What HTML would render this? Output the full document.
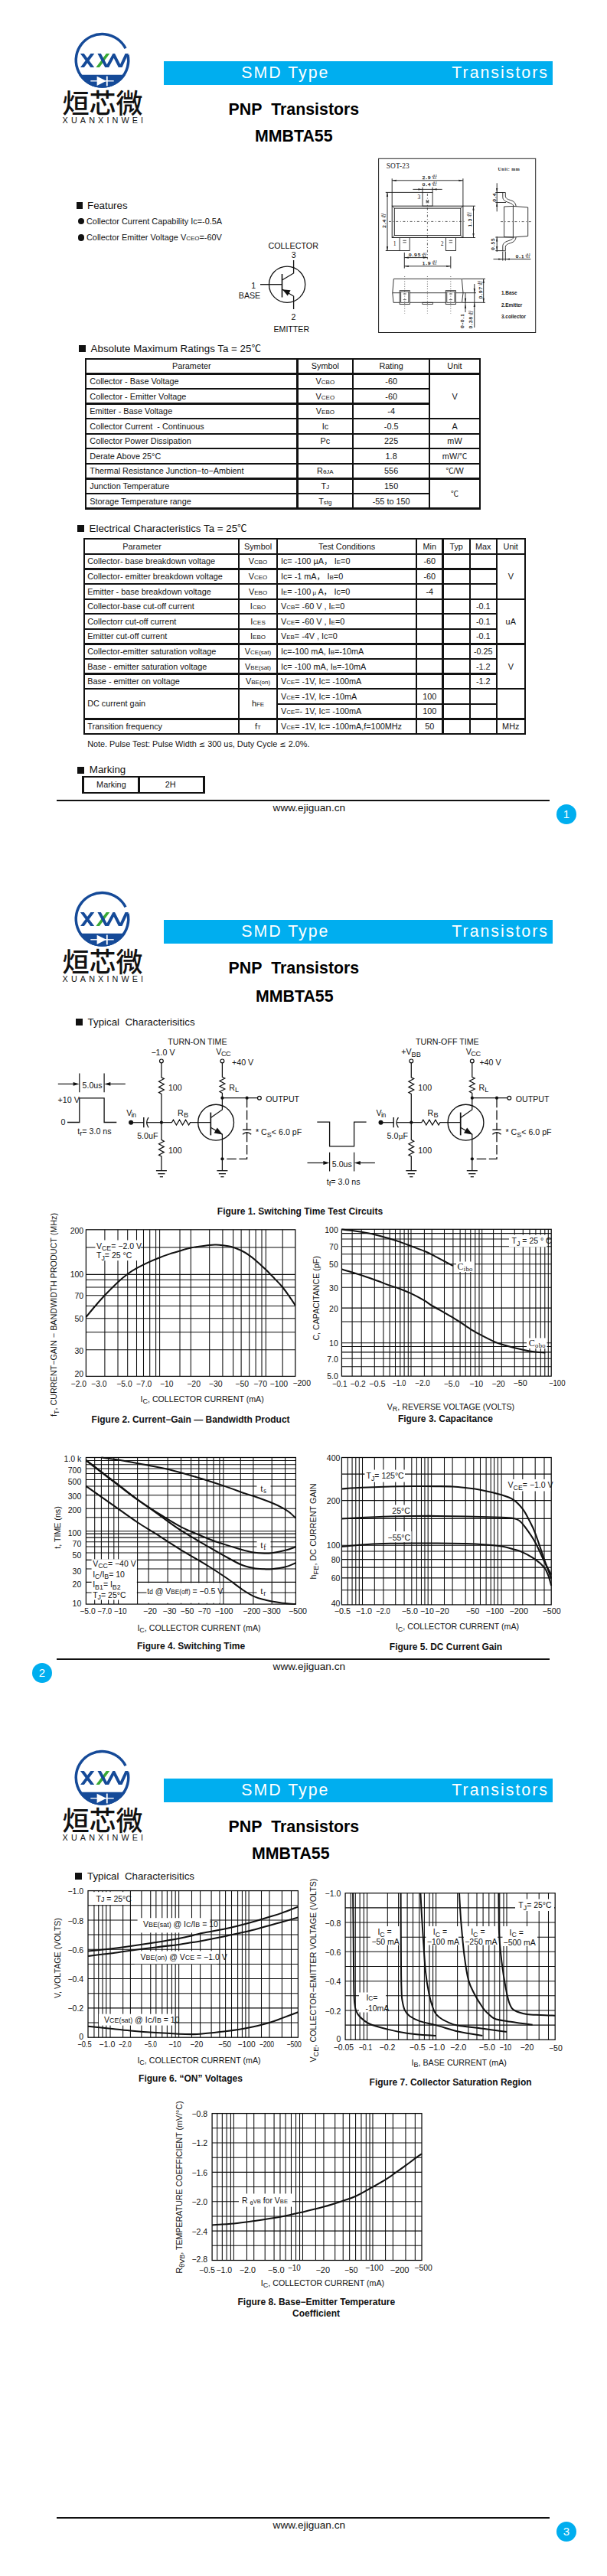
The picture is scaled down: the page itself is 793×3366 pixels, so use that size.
<!DOCTYPE html>
<html lang="zh">
<head>
<meta charset="utf-8">
<title>MMBTA55 PNP Transistors</title>
<style>
html,body{margin:0;padding:0;background:#fff;}
body{width:793px;height:3366px;position:relative;overflow:hidden;font-family:"Liberation Sans",sans-serif;color:#111;}
.page{position:absolute;left:0;width:793px;height:1122px;overflow:hidden;}
.page div,.page svg{position:absolute;}
.cn{font-family:"Liberation Sans","Noto Sans CJK SC",sans-serif;font-weight:500;font-size:35px;line-height:44px;white-space:nowrap;color:#111;}
.py{font-family:"Liberation Sans",sans-serif;font-size:10.8px;line-height:14px;letter-spacing:4.12px;white-space:nowrap;color:#111;}
.bar{left:214px;top:80px;width:507.5px;height:31px;background:#00aeef;}
.bart{top:82px;font-size:21.33px;line-height:26px;color:#fff;letter-spacing:2.0px;white-space:nowrap;}
.ttl{font-weight:bold;font-size:21.33px;line-height:26px;white-space:pre;color:#000;}
.fline{left:74px;top:1044.7px;width:644.2px;height:2.8px;background:#111;}
.furl{left:356.6px;top:1048.2px;font-size:13.6px;line-height:16px;white-space:nowrap;}
.pnum{width:26px;height:26px;border-radius:13px;background:#00aeef;color:#fff;font-size:15px;line-height:26px;text-align:center;}
.t{white-space:pre;line-height:1;}
</style>
</head>
<body>
<div class="page" style="top:0px">
<svg style="position:absolute;left:90px;top:36px" width="90" height="84" viewBox="90 36 90 84"><path d="M164.08 97.8 A36 36 0 0 1 102.92 97.8 Z" fill="#154a98"/><path d="M167 71.68 A34.25 34.25 0 1 1 164.02 63.25" fill="none" stroke="#154a98" stroke-width="3.5"/><clipPath id="lgc1"><rect x="100" y="70.1" width="72" height="18"/></clipPath><g clip-path="url(#lgc1)" fill="none" stroke-width="3.9"><path d="M105.9 68.1 L122.3 90.1 M122.3 68.1 L105.9 90.1" stroke="#154a98"/><path d="M142.5 68.1 L126.1 90.1" stroke="#3aaa35" stroke-width="3.6"/><path d="M128.6 68.1 L139.7 88.4 L148.7 71.6 L157.2 88.4 L167 67.2" stroke="#154a98" stroke-linejoin="round"/></g><path d="M118.3 105.8 H148.7" stroke="#fff" stroke-width="1.4"/><polygon points="126.6,99.8 126.6,112 139,105.8" fill="#fff"/><path d="M139.8 99.6 V112.4" stroke="#fff" stroke-width="1.8"/></svg><div class="cn" style="left:81.5px;top:114px;">烜芯微</div><div class="py" style="left:81.6px;top:150px;">XUANXINWEI</div><div class="bar"></div><div class="bart" style="left:315.3px;">SMD Type</div><div class="bart" style="left:590.3px;">Transistors</div><div class="ttl" style="left:298.5px;top:130px;">PNP&nbsp; Transistors</div><div class="ttl" style="left:333px;top:165px;">MMBTA55</div>
<div style="left:99.5px;top:264.2px;width:8.8px;height:8.8px;background:#111"></div><div class="t" style="top:261.72px;font-size:13.33px;left:114px;">Features</div><div style="left:101.6px;top:285px;width:8.2px;height:8.2px;border-radius:50%;background:#111"></div><div class="t" style="top:283.77px;font-size:10.9px;left:113px;">Collector Current Capability Ic=-0.5A</div><div style="left:101.6px;top:306.4px;width:8.2px;height:8.2px;border-radius:50%;background:#111"></div><div class="t" style="top:305.17px;font-size:10.9px;left:113px;">Collector Emitter Voltage V<span style="font-size:8px">CEO</span>=-60V</div>
<svg style="left:300px;top:300px" width="170" height="150" viewBox="300 300 170 150" font-family='&quot;Liberation Sans&quot;, sans-serif'><circle cx="375.1" cy="371.7" r="23.6" fill="none" stroke="#111" stroke-width="1.3"/><path d="M340 371.7 H368.5" stroke="#111" stroke-width="1.3" fill="none"/><path d="M368.5 358 V388.5" stroke="#111" stroke-width="1.6" fill="none"/><path d="M368.5 366 L383.6 357 V340" stroke="#111" stroke-width="1.3" fill="none"/><path d="M368.5 378 L383.6 387 V404" stroke="#111" stroke-width="1.3" fill="none"/><polygon points="369,378.3 379.6,379.3 375.8,386.6" fill="#111"/><text x="383.2" y="325.3" font-size="10.75" text-anchor="middle" fill="#111">COLLECTOR</text><text x="383.6" y="336.5" font-size="10.67" text-anchor="middle" fill="#111">3</text><text x="331.2" y="377.2" font-size="10.67" text-anchor="middle" fill="#111">1</text><text x="326" y="390.3" font-size="10.67" text-anchor="middle" fill="#111">BASE</text><text x="383.4" y="418.3" font-size="10.67" text-anchor="middle" fill="#111">2</text><text x="380.8" y="434.3" font-size="10.67" text-anchor="middle" fill="#111">EMITTER</text></svg>
<svg style="left:490px;top:200px" width="215" height="240" viewBox="490 200 215 240"><rect x="494.6" y="207.3" width="205.1" height="227.2" fill="none" stroke="#222" stroke-width="1"/><text x="504.8" y="220.3" font-size="9.4" font-family='&quot;Liberation Serif&quot;, serif' fill="#222" letter-spacing="0.1">SOT-23</text><text x="650.5" y="223.3" font-size="6" font-weight="bold" font-family='&quot;Liberation Serif&quot;, serif' fill="#222" letter-spacing="0.5">Unit: mm</text><rect x="512.2" y="269.2" width="92.7" height="41.3" fill="none" stroke="#222" stroke-width="1"/><rect x="515.3" y="272.1" width="86.5" height="35.5" fill="none" stroke="#222" stroke-width="1"/><path d="M512.2 269.2 L515.3 272.1" stroke="#222" stroke-width="0.8" fill="none"/><path d="M604.9 269.2 L601.8 272.1" stroke="#222" stroke-width="0.8" fill="none"/><path d="M512.2 310.5 L515.3 307.6" stroke="#222" stroke-width="0.8" fill="none"/><path d="M604.9 310.5 L601.8 307.6" stroke="#222" stroke-width="0.8" fill="none"/><rect x="552" y="251.4" width="13.1" height="17.8" fill="none" stroke="#222" stroke-width="0.9"/><rect x="522.1" y="310.5" width="13.1" height="17" fill="none" stroke="#222" stroke-width="0.9"/><rect x="582.4" y="310.5" width="13.1" height="17" fill="none" stroke="#222" stroke-width="0.9"/><path d="M508 289.4 L607.5 289.4" stroke="#222" stroke-width="0.7" fill="none" stroke-dasharray="3 2.6 1 2.6"/><path d="M558.4 253 L558.4 341" stroke="#222" stroke-width="0.7" fill="none" stroke-dasharray="3 2.6 1 2.6"/><path d="M526.4 314.3 L530.8 314.3" stroke="#222" stroke-width="0.8" fill="none"/><path d="M526.4 316.8 L530.8 316.8" stroke="#222" stroke-width="0.8" fill="none"/><path d="M586.7 314.3 L591.1 314.3" stroke="#222" stroke-width="0.8" fill="none"/><path d="M586.7 316.8 L591.1 316.8" stroke="#222" stroke-width="0.8" fill="none"/><path d="M557.2 261 L557.2 265.4" stroke="#222" stroke-width="0.8" fill="none"/><path d="M559.7 261 L559.7 265.4" stroke="#222" stroke-width="0.8" fill="none"/><path d="M557.2 263.2 L559.7 263.2" stroke="#222" stroke-width="0.6" fill="none"/><text x="547.3" y="259.6" font-size="7.6" text-anchor="middle" font-family='&quot;Liberation Serif&quot;, serif' fill="#222">3</text><text x="515.6" y="320.6" font-size="7.6" text-anchor="middle" font-family='&quot;Liberation Serif&quot;, serif' fill="#222">1</text><text x="577.6" y="320.6" font-size="7.6" text-anchor="middle" font-family='&quot;Liberation Serif&quot;, serif' fill="#222">2</text><path d="M512.2 233.3 L512.2 269.2" stroke="#222" stroke-width="0.95" fill="none"/><path d="M604.9 233.3 L604.9 269.2" stroke="#222" stroke-width="0.95" fill="none"/><path d="M512.2 235.8 L604.9 235.8" stroke="#222" stroke-width="0.95" fill="none"/><polygon points="512.2,235.8 517.8,234.65 517.8,236.95" fill="#222"/><polygon points="604.9,235.8 599.3,236.95 599.3,234.65" fill="#222"/><text x="557.5" y="233.51" font-size="7" text-anchor="middle" font-family='&quot;Liberation Serif&quot;, serif' fill="#222" letter-spacing="1.0" stroke="#222" stroke-width="0.25">2.9</text><text x="564.31" y="230.8" font-size="3.6" font-weight="bold" font-family='&quot;Liberation Serif&quot;, serif' fill="#222">+0.1</text><text x="564.31" y="233.8" font-size="3.6" font-weight="bold" font-family='&quot;Liberation Serif&quot;, serif' fill="#222">-0.1</text><path d="M539.4 247.4 L577.7 247.4" stroke="#222" stroke-width="0.95" fill="none"/><path d="M552 244.8 L552 251.4" stroke="#222" stroke-width="0.95" fill="none"/><path d="M565.1 244.8 L565.1 251.4" stroke="#222" stroke-width="0.95" fill="none"/><polygon points="552,247.4 546.4,248.55 546.4,246.25" fill="#222"/><polygon points="565.1,247.4 570.7,246.25 570.7,248.55" fill="#222"/><text x="557.5" y="242.91" font-size="7" text-anchor="middle" font-family='&quot;Liberation Serif&quot;, serif' fill="#222" letter-spacing="1.0" stroke="#222" stroke-width="0.25">0.4</text><text x="564.31" y="240.2" font-size="3.6" font-weight="bold" font-family='&quot;Liberation Serif&quot;, serif' fill="#222">+0.1</text><text x="564.31" y="243.2" font-size="3.6" font-weight="bold" font-family='&quot;Liberation Serif&quot;, serif' fill="#222">-0.1</text><path d="M506 251.4 L506 327.5" stroke="#222" stroke-width="0.95" fill="none"/><path d="M503.8 251.4 L552 251.4" stroke="#222" stroke-width="0.95" fill="none"/><path d="M503.8 327.5 L522.1 327.5" stroke="#222" stroke-width="0.95" fill="none"/><polygon points="506,251.4 507.15,257 504.85,257" fill="#222"/><polygon points="506,327.5 504.85,321.9 507.15,321.9" fill="#222"/><text x="503.51" y="291.9" font-size="7" text-anchor="middle" font-family='&quot;Liberation Serif&quot;, serif' fill="#222" transform="rotate(-90 503.51 291.9)" letter-spacing="1.0" stroke="#222" stroke-width="0.25">2.4</text><text x="500.8" y="285.09" font-size="3.6" font-weight="bold" font-family='&quot;Liberation Serif&quot;, serif' fill="#222" transform="rotate(-90 500.8 285.09)" >+0.1</text><text x="503.8" y="285.09" font-size="3.6" font-weight="bold" font-family='&quot;Liberation Serif&quot;, serif' fill="#222" transform="rotate(-90 503.8 285.09)" >-0.1</text><path d="M618.5 269.2 L618.5 310.5" stroke="#222" stroke-width="0.95" fill="none"/><path d="M604.9 269.2 L621 269.2" stroke="#222" stroke-width="0.95" fill="none"/><path d="M604.9 310.5 L621 310.5" stroke="#222" stroke-width="0.95" fill="none"/><polygon points="618.5,269.2 619.65,274.8 617.35,274.8" fill="#222"/><polygon points="618.5,310.5 617.35,304.9 619.65,304.9" fill="#222"/><text x="615.91" y="290.5" font-size="7" text-anchor="middle" font-family='&quot;Liberation Serif&quot;, serif' fill="#222" transform="rotate(-90 615.91 290.5)" letter-spacing="1.0" stroke="#222" stroke-width="0.25">1.3</text><text x="613.2" y="283.69" font-size="3.6" font-weight="bold" font-family='&quot;Liberation Serif&quot;, serif' fill="#222" transform="rotate(-90 613.2 283.69)" >+0.1</text><text x="616.2" y="283.69" font-size="3.6" font-weight="bold" font-family='&quot;Liberation Serif&quot;, serif' fill="#222" transform="rotate(-90 616.2 283.69)" >-0.1</text><path d="M528.3 336.6 L558.4 336.6" stroke="#222" stroke-width="0.95" fill="none"/><polygon points="528.3,336.6 533.9,335.45 533.9,337.75" fill="#222"/><polygon points="558.4,336.6 552.8,337.75 552.8,335.45" fill="#222"/><text x="542.1" y="335.31" font-size="7" text-anchor="middle" font-family='&quot;Liberation Serif&quot;, serif' fill="#222" letter-spacing="1.0" stroke="#222" stroke-width="0.25">0.95</text><text x="550.88" y="332.6" font-size="3.6" font-weight="bold" font-family='&quot;Liberation Serif&quot;, serif' fill="#222">+0.1</text><text x="550.88" y="335.6" font-size="3.6" font-weight="bold" font-family='&quot;Liberation Serif&quot;, serif' fill="#222">-0.1</text><path d="M528.3 330 L528.3 350.6" stroke="#222" stroke-width="0.95" fill="none"/><path d="M588.8 335 L588.8 350.6" stroke="#222" stroke-width="0.95" fill="none"/><path d="M528.3 347.8 L588.8 347.8" stroke="#222" stroke-width="0.95" fill="none"/><polygon points="528.3,347.8 533.9,346.65 533.9,348.95" fill="#222"/><polygon points="588.8,347.8 583.2,348.95 583.2,346.65" fill="#222"/><text x="557.5" y="345.71" font-size="7" text-anchor="middle" font-family='&quot;Liberation Serif&quot;, serif' fill="#222" letter-spacing="1.0" stroke="#222" stroke-width="0.25">1.9</text><text x="564.31" y="343" font-size="3.6" font-weight="bold" font-family='&quot;Liberation Serif&quot;, serif' fill="#222">+0.1</text><text x="564.31" y="346" font-size="3.6" font-weight="bold" font-family='&quot;Liberation Serif&quot;, serif' fill="#222">-0.1</text><polygon points="658.6,270 670.4,269.4 689.7,271 689.7,308.5 670.4,310 658.6,309.5" fill="none" stroke="#222" stroke-width="0.9"/><path d="M670.4 269.4 L670.4 310" stroke="#222" stroke-width="0.9" fill="none"/><path d="M656.8 251.5 V257.5 C656.8 262 661 263.5 665 264.8 C668.5 266 670.5 267 671 269.6" fill="none" stroke="#222" stroke-width="0.9"/><path d="M660.3 251.5 V256 C660.3 259.5 663.5 260.5 667.5 261.8 C671.5 263 673.8 265.5 674.2 269.7" fill="none" stroke="#222" stroke-width="0.9"/><path d="M656.8 251.5 H660.3" fill="none" stroke="#222" stroke-width="0.9"/><g transform="translate(0 579.2) scale(1 -1)"><path d="M656.8 251.5 V257.5 C656.8 262 661 263.5 665 264.8 C668.5 266 670.5 267 671 269.6" fill="none" stroke="#222" stroke-width="0.9"/><path d="M660.3 251.5 V256 C660.3 259.5 663.5 260.5 667.5 261.8 C671.5 263 673.8 265.5 674.2 269.7" fill="none" stroke="#222" stroke-width="0.9"/><path d="M656.8 251.5 H660.3" fill="none" stroke="#222" stroke-width="0.9"/></g><path d="M654 289.6 L694 289.6" stroke="#222" stroke-width="0.7" fill="none" stroke-dasharray="3 2.6 1 2.6"/><path d="M649.2 239.3 L649.2 276.4" stroke="#222" stroke-width="0.95" fill="none"/><path d="M647.3 251.5 L657 251.5" stroke="#222" stroke-width="0.95" fill="none"/><path d="M647.3 264.5 L661 264.5" stroke="#222" stroke-width="0.95" fill="none"/><polygon points="649.2,251.5 648.05,245.9 650.35,245.9" fill="#222"/><polygon points="649.2,264.5 650.35,270.1 648.05,270.1" fill="#222"/><text x="647.61" y="257.5" font-size="7" text-anchor="middle" font-family='&quot;Liberation Serif&quot;, serif' fill="#222" transform="rotate(-90 647.61 257.5)" letter-spacing="1.0" stroke="#222" stroke-width="0.25">0.4</text><path d="M649.2 309 L649.2 329" stroke="#222" stroke-width="0.95" fill="none"/><path d="M647.3 310 L670.4 310" stroke="#222" stroke-width="0.95" fill="none"/><path d="M647.3 327.6 L657 327.6" stroke="#222" stroke-width="0.95" fill="none"/><polygon points="649.2,310 650.35,315.6 648.05,315.6" fill="#222"/><polygon points="649.2,327.6 648.05,322 650.35,322" fill="#222"/><text x="645.51" y="318.6" font-size="7" text-anchor="middle" font-family='&quot;Liberation Serif&quot;, serif' fill="#222" transform="rotate(-90 645.51 318.6)" letter-spacing="1.0" stroke="#222" stroke-width="0.25">0.55</text><path d="M644.5 338.6 L693.4 338.6" stroke="#222" stroke-width="0.95" fill="none"/><path d="M656.8 328.5 L656.8 340.6" stroke="#222" stroke-width="0.95" fill="none"/><path d="M660.3 328.5 L660.3 340.6" stroke="#222" stroke-width="0.95" fill="none"/><polygon points="656.8,338.6 651.2,339.75 651.2,337.45" fill="#222"/><polygon points="660.3,338.6 665.9,337.45 665.9,339.75" fill="#222"/><text x="679.5" y="336.91" font-size="7" text-anchor="middle" font-family='&quot;Liberation Serif&quot;, serif' fill="#222" letter-spacing="1.0" stroke="#222" stroke-width="0.25">0.1</text><text x="686.31" y="334.2" font-size="3.6" font-weight="bold" font-family='&quot;Liberation Serif&quot;, serif' fill="#222">+0.1</text><text x="686.31" y="337.2" font-size="3.6" font-weight="bold" font-family='&quot;Liberation Serif&quot;, serif' fill="#222">-0.1</text><polygon points="514.3,364.4 603.3,364.4 605,382.7 603.5,395.3 514,395.3 512.8,382.7" fill="none" stroke="#222" stroke-width="0.9"/><path d="M512.8 382.7 L605 382.7" stroke="#222" stroke-width="0.9" fill="none"/><rect x="522.2" y="379.7" width="13.1" height="17.8" fill="#fff" stroke="#222" stroke-width="0.9"/><rect x="523.7" y="381.2" width="10.1" height="14.1" fill="none" stroke="#222" stroke-width="0.8"/><path d="M526.7 384 L530.8 384" stroke="#222" stroke-width="0.7" fill="none"/><path d="M526.7 391.6 L530.8 391.6" stroke="#222" stroke-width="0.7" fill="none"/><rect x="582.3" y="379.7" width="13.1" height="17.8" fill="#fff" stroke="#222" stroke-width="0.9"/><rect x="583.8" y="381.2" width="10.1" height="14.1" fill="none" stroke="#222" stroke-width="0.8"/><path d="M586.8 384 L590.9 384" stroke="#222" stroke-width="0.7" fill="none"/><path d="M586.8 391.6 L590.9 391.6" stroke="#222" stroke-width="0.7" fill="none"/><rect x="551.9" y="395.3" width="13.6" height="2.2" fill="none" stroke="#222" stroke-width="0.8"/><path d="M528.7 361 L528.7 409.5" stroke="#222" stroke-width="0.7" fill="none" stroke-dasharray="1 2.2"/><path d="M558.4 361 L558.4 409.5" stroke="#222" stroke-width="0.7" fill="none" stroke-dasharray="1 2.2"/><path d="M588.8 361 L588.8 409.5" stroke="#222" stroke-width="0.7" fill="none" stroke-dasharray="1 2.2"/><path d="M631.7 364.4 L631.7 395.3" stroke="#222" stroke-width="0.95" fill="none"/><path d="M603.8 364.4 L634 364.4" stroke="#222" stroke-width="0.95" fill="none"/><path d="M604 395.3 L634 395.3" stroke="#222" stroke-width="0.95" fill="none"/><polygon points="631.7,364.4 632.85,370 630.55,370" fill="#222"/><polygon points="631.7,395.3 630.55,389.7 632.85,389.7" fill="#222"/><text x="629.51" y="382" font-size="7" text-anchor="middle" font-family='&quot;Liberation Serif&quot;, serif' fill="#222" transform="rotate(-90 629.51 382)" letter-spacing="1.0" stroke="#222" stroke-width="0.25">0.97</text><text x="626.8" y="373.22" font-size="3.6" font-weight="bold" font-family='&quot;Liberation Serif&quot;, serif' fill="#222" transform="rotate(-90 626.8 373.22)" >+0.1</text><text x="629.8" y="373.22" font-size="3.6" font-weight="bold" font-family='&quot;Liberation Serif&quot;, serif' fill="#222" transform="rotate(-90 629.8 373.22)" >-0.1</text><path d="M619.8 371 L619.8 428" stroke="#222" stroke-width="0.95" fill="none"/><path d="M605 382.7 L622 382.7" stroke="#222" stroke-width="0.95" fill="none"/><polygon points="619.8,382.7 618.65,377.1 620.95,377.1" fill="#222"/><polygon points="619.8,395.3 620.95,400.9 618.65,400.9" fill="#222"/><text x="617.31" y="421" font-size="7" text-anchor="middle" font-family='&quot;Liberation Serif&quot;, serif' fill="#222" transform="rotate(-90 617.31 421)" letter-spacing="1.0" stroke="#222" stroke-width="0.25">0.38</text><text x="614.6" y="412.22" font-size="3.6" font-weight="bold" font-family='&quot;Liberation Serif&quot;, serif' fill="#222" transform="rotate(-90 614.6 412.22)" >+0.1</text><text x="617.6" y="412.22" font-size="3.6" font-weight="bold" font-family='&quot;Liberation Serif&quot;, serif' fill="#222" transform="rotate(-90 617.6 412.22)" >-0.1</text><path d="M608 382.7 L608 408" stroke="#222" stroke-width="0.95" fill="none"/><polygon points="608,395.3 606.85,389.7 609.15,389.7" fill="#222"/><polygon points="608,397.5 609.15,403.1 606.85,403.1" fill="#222"/><text x="606.11" y="419" font-size="7" text-anchor="middle" font-family='&quot;Liberation Serif&quot;, serif' fill="#222" transform="rotate(-90 606.11 419)" letter-spacing="1.0" stroke="#222" stroke-width="0.25">0-0.1</text><text x="655" y="384.7" font-size="6.4" font-weight="bold" font-family='&quot;Liberation Sans&quot;, sans-serif' fill="#222">1.Base</text><text x="655" y="400.7" font-size="6.4" font-weight="bold" font-family='&quot;Liberation Sans&quot;, sans-serif' fill="#222">2.Emitter</text><text x="655" y="415.9" font-size="6.4" font-weight="bold" font-family='&quot;Liberation Sans&quot;, sans-serif' fill="#222">3.collector</text></svg>
<div style="left:103px;top:451.2px;width:9px;height:9px;background:#111"></div><div class="t" style="top:449.32px;font-size:13.33px;left:118.6px;">Absolute Maximum Ratings Ta = 25<span style='font-family:"Liberation Sans","Noto Sans CJK SC",sans-serif;font-size:12.5px'>℃</span></div><div style="left:110.9px;top:467.75px;width:517.2px;height:2.3px;background:#111"></div><div style="left:110.9px;top:487.32px;width:517.2px;height:2.3px;background:#111"></div><div style="left:110.9px;top:506.89px;width:451.2px;height:2.3px;background:#111"></div><div style="left:110.9px;top:526.46px;width:451.2px;height:2.3px;background:#111"></div><div style="left:110.9px;top:546.03px;width:517.2px;height:2.3px;background:#111"></div><div style="left:110.9px;top:565.6px;width:517.2px;height:2.3px;background:#111"></div><div style="left:110.9px;top:585.17px;width:517.2px;height:2.3px;background:#111"></div><div style="left:110.9px;top:604.74px;width:517.2px;height:2.3px;background:#111"></div><div style="left:110.9px;top:624.31px;width:517.2px;height:2.3px;background:#111"></div><div style="left:110.9px;top:643.88px;width:451.2px;height:2.3px;background:#111"></div><div style="left:110.9px;top:663.45px;width:517.2px;height:2.3px;background:#111"></div><div style="left:110.85px;top:467.9px;width:2.3px;height:197.7px;background:#111"></div><div style="left:387.35px;top:467.9px;width:2.3px;height:197.7px;background:#111"></div><div style="left:460.15px;top:467.9px;width:2.3px;height:197.7px;background:#111"></div><div style="left:559.85px;top:467.9px;width:2.3px;height:197.7px;background:#111"></div><div style="left:625.85px;top:467.9px;width:2.3px;height:197.7px;background:#111"></div><div class="t" style="top:473.38px;font-size:10.85px;left:190.25px;width:120px;text-align:center;">Parameter</div><div class="t" style="top:473.38px;font-size:10.85px;left:364.9px;width:120px;text-align:center;">Symbol</div><div class="t" style="top:473.38px;font-size:10.85px;left:451.15px;width:120px;text-align:center;">Rating</div><div class="t" style="top:473.38px;font-size:10.85px;left:534px;width:120px;text-align:center;">Unit</div><div class="t" style="top:492.95px;font-size:10.85px;left:117.3px;">Collector - Base Voltage</div><div class="t" style="top:492.95px;font-size:10.85px;left:389.9px;width:70px;text-align:center;">V<span style="font-size:8px">CBO</span></div><div class="t" style="top:492.95px;font-size:10.85px;left:463.65px;width:95px;text-align:center;">-60</div><div class="t" style="top:512.52px;font-size:10.85px;left:117.3px;">Collector - Emitter Voltage</div><div class="t" style="top:512.52px;font-size:10.85px;left:389.9px;width:70px;text-align:center;">V<span style="font-size:8px">CEO</span></div><div class="t" style="top:512.52px;font-size:10.85px;left:463.65px;width:95px;text-align:center;">-60</div><div class="t" style="top:532.09px;font-size:10.85px;left:117.3px;">Emitter - Base Voltage</div><div class="t" style="top:532.09px;font-size:10.85px;left:389.9px;width:70px;text-align:center;">V<span style="font-size:8px">EBO</span></div><div class="t" style="top:532.09px;font-size:10.85px;left:463.65px;width:95px;text-align:center;">-4</div><div class="t" style="top:551.66px;font-size:10.85px;left:117.3px;">Collector Current  - Continuous</div><div class="t" style="top:551.66px;font-size:10.85px;left:389.9px;width:70px;text-align:center;">Ic</div><div class="t" style="top:551.66px;font-size:10.85px;left:463.65px;width:95px;text-align:center;">-0.5</div><div class="t" style="top:571.23px;font-size:10.85px;left:117.3px;">Collector Power Dissipation</div><div class="t" style="top:571.23px;font-size:10.85px;left:389.9px;width:70px;text-align:center;">Pc</div><div class="t" style="top:571.23px;font-size:10.85px;left:463.65px;width:95px;text-align:center;">225</div><div class="t" style="top:590.8px;font-size:10.85px;left:117.3px;">Derate Above 25°C</div><div class="t" style="top:590.8px;font-size:10.85px;left:463.65px;width:95px;text-align:center;">1.8</div><div class="t" style="top:610.37px;font-size:10.85px;left:117.3px;">Thermal Resistance Junction−to−Ambient</div><div class="t" style="top:610.37px;font-size:10.85px;left:389.9px;width:70px;text-align:center;">R<span style="font-size:8px">θJA</span></div><div class="t" style="top:610.37px;font-size:10.85px;left:463.65px;width:95px;text-align:center;">556</div><div class="t" style="top:629.94px;font-size:10.85px;left:117.3px;">Junction Temperature</div><div class="t" style="top:629.94px;font-size:10.85px;left:389.9px;width:70px;text-align:center;">T<span style="font-size:8px">J</span></div><div class="t" style="top:629.94px;font-size:10.85px;left:463.65px;width:95px;text-align:center;">150</div><div class="t" style="top:649.51px;font-size:10.85px;left:117.3px;">Storage Temperature range</div><div class="t" style="top:649.51px;font-size:10.85px;left:389.9px;width:70px;text-align:center;">T<span style="font-size:8px">stg</span></div><div class="t" style="top:649.51px;font-size:10.85px;left:463.65px;width:95px;text-align:center;">-55 to 150</div><div class="t" style="top:512.52px;font-size:10.85px;left:564px;width:60px;text-align:center;">V</div><div class="t" style="top:551.66px;font-size:10.85px;left:564px;width:60px;text-align:center;">A</div><div class="t" style="top:571.23px;font-size:10.85px;left:564px;width:60px;text-align:center;">mW</div><div class="t" style="top:590.8px;font-size:10.85px;left:564px;width:60px;text-align:center;">mW/<span style='font-family:"Liberation Sans","Noto Sans CJK SC",sans-serif;font-size:10px'>℃</span></div><div class="t" style="top:610.37px;font-size:10.85px;left:564px;width:60px;text-align:center;"><span style='font-family:"Liberation Sans","Noto Sans CJK SC",sans-serif;font-size:10px'>℃</span>/W</div><div class="t" style="top:639.73px;font-size:10.85px;left:564px;width:60px;text-align:center;"><span style='font-family:"Liberation Sans","Noto Sans CJK SC",sans-serif;font-size:10px'>℃</span></div>
<div style="left:101.3px;top:685.8px;width:9px;height:9px;background:#111"></div><div class="t" style="top:683.92px;font-size:13.33px;left:116.6px;">Electrical Characteristics Ta = 25<span style='font-family:"Liberation Sans","Noto Sans CJK SC",sans-serif;font-size:12.5px'>℃</span></div><div style="left:108.6px;top:703.15px;width:578.2px;height:2.3px;background:#111"></div><div style="left:108.6px;top:722.74px;width:578.2px;height:2.3px;background:#111"></div><div style="left:108.6px;top:742.33px;width:541.3px;height:2.3px;background:#111"></div><div style="left:108.6px;top:761.92px;width:541.3px;height:2.3px;background:#111"></div><div style="left:108.6px;top:781.51px;width:578.2px;height:2.3px;background:#111"></div><div style="left:108.6px;top:801.1px;width:541.3px;height:2.3px;background:#111"></div><div style="left:108.6px;top:820.69px;width:541.3px;height:2.3px;background:#111"></div><div style="left:108.6px;top:840.28px;width:578.2px;height:2.3px;background:#111"></div><div style="left:108.6px;top:859.87px;width:541.3px;height:2.3px;background:#111"></div><div style="left:108.6px;top:879.46px;width:541.3px;height:2.3px;background:#111"></div><div style="left:108.6px;top:899.05px;width:578.2px;height:2.3px;background:#111"></div><div style="left:361px;top:918.64px;width:288.9px;height:2.3px;background:#111"></div><div style="left:108.6px;top:938.23px;width:578.2px;height:2.3px;background:#111"></div><div style="left:108.6px;top:957.82px;width:578.2px;height:2.3px;background:#111"></div><div style="left:108.55px;top:703.3px;width:2.3px;height:256.67px;background:#111"></div><div style="left:310.85px;top:703.3px;width:2.3px;height:256.67px;background:#111"></div><div style="left:360.95px;top:703.3px;width:2.3px;height:256.67px;background:#111"></div><div style="left:542.85px;top:703.3px;width:2.3px;height:256.67px;background:#111"></div><div style="left:577.45px;top:703.3px;width:2.3px;height:256.67px;background:#111"></div><div style="left:612.55px;top:703.3px;width:2.3px;height:256.67px;background:#111"></div><div style="left:647.65px;top:703.3px;width:2.3px;height:256.67px;background:#111"></div><div style="left:684.55px;top:703.3px;width:2.3px;height:256.67px;background:#111"></div><div class="t" style="top:708.79px;font-size:10.85px;left:160.3px;">Parameter</div><div class="t" style="top:708.79px;font-size:10.85px;left:277.05px;width:120px;text-align:center;">Symbol</div><div class="t" style="top:708.79px;font-size:10.85px;left:393.05px;width:120px;text-align:center;">Test Conditions</div><div class="t" style="top:708.79px;font-size:10.85px;left:501.3px;width:120px;text-align:center;">Min</div><div class="t" style="top:708.79px;font-size:10.85px;left:536.15px;width:120px;text-align:center;">Typ</div><div class="t" style="top:708.79px;font-size:10.85px;left:571.25px;width:120px;text-align:center;">Max</div><div class="t" style="top:708.79px;font-size:10.85px;left:607.25px;width:120px;text-align:center;">Unit</div><div class="t" style="top:728.38px;font-size:10.85px;left:114.2px;">Collector- base breakdown voltage</div><div class="t" style="top:728.38px;font-size:10.85px;left:307.05px;width:60px;text-align:center;">V<span style="font-size:8px">CBO</span></div><div class="t" style="top:728.38px;font-size:10.85px;left:366.9px;">Ic= -100 µA<span style='font-family:"Liberation Sans","Noto Sans CJK SC",sans-serif'>，</span> I<span style="font-size:8px">E</span>=0</div><div class="t" style="top:728.38px;font-size:10.85px;left:541.3px;width:40px;text-align:center;">-60</div><div class="t" style="top:747.97px;font-size:10.85px;left:114.2px;">Collector- emitter breakdown voltage</div><div class="t" style="top:747.97px;font-size:10.85px;left:307.05px;width:60px;text-align:center;">V<span style="font-size:8px">CEO</span></div><div class="t" style="top:747.97px;font-size:10.85px;left:366.9px;">Ic= -1 mA<span style='font-family:"Liberation Sans","Noto Sans CJK SC",sans-serif'>，</span> I<span style="font-size:8px">B</span>=0</div><div class="t" style="top:747.97px;font-size:10.85px;left:541.3px;width:40px;text-align:center;">-60</div><div class="t" style="top:767.56px;font-size:10.85px;left:114.2px;">Emitter - base breakdown voltage</div><div class="t" style="top:767.56px;font-size:10.85px;left:307.05px;width:60px;text-align:center;">V<span style="font-size:8px">EBO</span></div><div class="t" style="top:767.56px;font-size:10.85px;left:366.9px;">I<span style="font-size:8px">E</span>= -100<span style="font-size:8px"> µ </span>A<span style='font-family:"Liberation Sans","Noto Sans CJK SC",sans-serif'>，</span> Ic=0</div><div class="t" style="top:767.56px;font-size:10.85px;left:541.3px;width:40px;text-align:center;">-4</div><div class="t" style="top:787.15px;font-size:10.85px;left:114.2px;">Collector-base cut-off current</div><div class="t" style="top:787.15px;font-size:10.85px;left:307.05px;width:60px;text-align:center;">I<span style="font-size:8px">CBO</span></div><div class="t" style="top:787.15px;font-size:10.85px;left:366.9px;">V<span style="font-size:8px">CB</span>= -60 V , I<span style="font-size:8px">E</span>=0</div><div class="t" style="top:787.15px;font-size:10.85px;left:611.25px;width:40px;text-align:center;">-0.1</div><div class="t" style="top:806.74px;font-size:10.85px;left:114.2px;">Collectorr cut-off current</div><div class="t" style="top:806.74px;font-size:10.85px;left:307.05px;width:60px;text-align:center;">I<span style="font-size:8px">CES</span></div><div class="t" style="top:806.74px;font-size:10.85px;left:366.9px;">V<span style="font-size:8px">CE</span>= -60 V , I<span style="font-size:8px">E</span>=0</div><div class="t" style="top:806.74px;font-size:10.85px;left:611.25px;width:40px;text-align:center;">-0.1</div><div class="t" style="top:826.33px;font-size:10.85px;left:114.2px;">Emitter cut-off current</div><div class="t" style="top:826.33px;font-size:10.85px;left:307.05px;width:60px;text-align:center;">I<span style="font-size:8px">EBO</span></div><div class="t" style="top:826.33px;font-size:10.85px;left:366.9px;">V<span style="font-size:8px">EB</span>= -4V , Ic=0</div><div class="t" style="top:826.33px;font-size:10.85px;left:611.25px;width:40px;text-align:center;">-0.1</div><div class="t" style="top:845.92px;font-size:10.85px;left:114.2px;">Collector-emitter saturation voltage</div><div class="t" style="top:845.92px;font-size:10.85px;left:307.05px;width:60px;text-align:center;">V<span style="font-size:8px">CE(sat)</span></div><div class="t" style="top:845.92px;font-size:10.85px;left:366.9px;">Ic=-100 mA, I<span style="font-size:8px">B</span>=-10mA</div><div class="t" style="top:845.92px;font-size:10.85px;left:611.25px;width:40px;text-align:center;">-0.25</div><div class="t" style="top:865.51px;font-size:10.85px;left:114.2px;">Base - emitter saturation voltage</div><div class="t" style="top:865.51px;font-size:10.85px;left:307.05px;width:60px;text-align:center;">V<span style="font-size:8px">BE(sat)</span></div><div class="t" style="top:865.51px;font-size:10.85px;left:366.9px;">Ic= -100 mA, I<span style="font-size:8px">B</span>=-10mA</div><div class="t" style="top:865.51px;font-size:10.85px;left:611.25px;width:40px;text-align:center;">-1.2</div><div class="t" style="top:885.1px;font-size:10.85px;left:114.2px;">Base - emitter on voltage</div><div class="t" style="top:885.1px;font-size:10.85px;left:307.05px;width:60px;text-align:center;">V<span style="font-size:8px">BE(on)</span></div><div class="t" style="top:885.1px;font-size:10.85px;left:366.9px;">V<span style="font-size:8px">CE</span>= -1V, Ic= -100mA</div><div class="t" style="top:885.1px;font-size:10.85px;left:611.25px;width:40px;text-align:center;">-1.2</div><div class="t" style="top:904.69px;font-size:10.85px;left:366.9px;">V<span style="font-size:8px">CE</span>= -1V, Ic= -10mA</div><div class="t" style="top:904.69px;font-size:10.85px;left:541.3px;width:40px;text-align:center;">100</div><div class="t" style="top:924.28px;font-size:10.85px;left:366.9px;">V<span style="font-size:8px">CE</span>=- 1V, Ic= -100mA</div><div class="t" style="top:924.28px;font-size:10.85px;left:541.3px;width:40px;text-align:center;">100</div><div class="t" style="top:943.87px;font-size:10.85px;left:114.2px;">Transition frequency</div><div class="t" style="top:943.87px;font-size:10.85px;left:307.05px;width:60px;text-align:center;">f<span style="font-size:8px">T</span></div><div class="t" style="top:943.87px;font-size:10.85px;left:366.9px;">V<span style="font-size:8px">CE</span>= -1V, Ic= -100mA,f=100MHz</div><div class="t" style="top:943.87px;font-size:10.85px;left:541.3px;width:40px;text-align:center;">50</div><div class="t" style="top:914.49px;font-size:10.85px;left:114.2px;">DC current gain</div><div class="t" style="top:914.49px;font-size:10.85px;left:307.05px;width:60px;text-align:center;">h<span style="font-size:8px">FE</span></div><div class="t" style="top:747.97px;font-size:10.85px;left:647.25px;width:40px;text-align:center;">V</div><div class="t" style="top:806.74px;font-size:10.85px;left:647.25px;width:40px;text-align:center;">uA</div><div class="t" style="top:865.51px;font-size:10.85px;left:647.25px;width:40px;text-align:center;">V</div><div class="t" style="top:943.87px;font-size:10.85px;left:647.25px;width:40px;text-align:center;">MHz</div><div class="t" style="top:967.42px;font-size:10.85px;left:114.2px;">Note. Pulse Test: Pulse Width <span style='font-family:"DejaVu Sans",sans-serif;font-size:10px'>≤</span> 300 us, Duty Cycle <span style='font-family:"DejaVu Sans",sans-serif;font-size:10px'>≤</span> 2.0%.</div>
<div style="left:100.6px;top:1001.8px;width:9px;height:9px;background:#111"></div><div class="t" style="top:999.42px;font-size:13.33px;left:116.8px;">Marking</div><div style="left:107.3px;top:1013.55px;width:160.4px;height:2.3px;background:#111"></div><div style="left:107.3px;top:1034.75px;width:160.4px;height:2.3px;background:#111"></div><div style="left:107.25px;top:1013.7px;width:2.3px;height:23.2px;background:#111"></div><div style="left:180.45px;top:1013.7px;width:2.3px;height:23.2px;background:#111"></div><div style="left:265.45px;top:1013.7px;width:2.3px;height:23.2px;background:#111"></div><div class="t" style="top:1020px;font-size:10.85px;left:110.4px;width:70px;text-align:center;">Marking</div><div class="t" style="top:1020px;font-size:10.85px;left:187.6px;width:70px;text-align:center;">2H</div>
<div class="fline"></div><div class="furl">www.ejiguan.cn</div><div class="pnum" style="left:726.8px;top:1050.8px;">1</div>
</div>
<div class="page" style="top:1122px">
<svg style="position:absolute;left:90px;top:36px" width="90" height="84" viewBox="90 36 90 84"><path d="M164.08 97.8 A36 36 0 0 1 102.92 97.8 Z" fill="#154a98"/><path d="M167 71.68 A34.25 34.25 0 1 1 164.02 63.25" fill="none" stroke="#154a98" stroke-width="3.5"/><clipPath id="lgc2"><rect x="100" y="70.1" width="72" height="18"/></clipPath><g clip-path="url(#lgc2)" fill="none" stroke-width="3.9"><path d="M105.9 68.1 L122.3 90.1 M122.3 68.1 L105.9 90.1" stroke="#154a98"/><path d="M142.5 68.1 L126.1 90.1" stroke="#3aaa35" stroke-width="3.6"/><path d="M128.6 68.1 L139.7 88.4 L148.7 71.6 L157.2 88.4 L167 67.2" stroke="#154a98" stroke-linejoin="round"/></g><path d="M118.3 105.8 H148.7" stroke="#fff" stroke-width="1.4"/><polygon points="126.6,99.8 126.6,112 139,105.8" fill="#fff"/><path d="M139.8 99.6 V112.4" stroke="#fff" stroke-width="1.8"/></svg><div class="cn" style="left:81.5px;top:114px;">烜芯微</div><div class="py" style="left:81.6px;top:150px;">XUANXINWEI</div><div class="bar"></div><div class="bart" style="left:315.3px;">SMD Type</div><div class="bart" style="left:590.3px;">Transistors</div><div class="ttl" style="left:298.5px;top:130px;">PNP&nbsp; Transistors</div><div class="ttl" style="left:334px;top:166.5px;">MMBTA55</div>
<div style="left:0;top:-1122px;width:793px;height:1122px"><div style="left:98.9px;top:1331.4px;width:9px;height:9px;background:#111"></div><div class="t" style="top:1329.32px;font-size:13.33px;left:114.6px;">Typical  Characterisitics</div><svg style="left:60px;top:1345px" width="700" height="215" viewBox="60 1345 700 215" font-family='&quot;Liberation Sans&quot;, sans-serif'><text x="257.9" y="1364.6" font-size="10.67" text-anchor="middle" fill="#111">TURN-ON TIME</text><text x="584.3" y="1365.2" font-size="10.67" text-anchor="middle" fill="#111">TURN-OFF TIME</text><circle cx="210.9" cy="1386.4" r="2.4" fill="#fff" stroke="#111" stroke-width="1.2"/><polyline points="210.9,1388.8 210.9,1407.8 214.3,1409.6 207.5,1413.2 214.3,1416.8 207.5,1420.4 214.3,1424 207.5,1427.6 210.9,1429.4 210.9,1466.7" fill="none" stroke="#111" stroke-width="1.25" stroke-linejoin="miter"/><polyline points="210.9,1466.7 210.9,1489.4 214.3,1491.2 207.5,1494.8 214.3,1498.4 207.5,1502 214.3,1505.6 207.5,1509.2 210.9,1511 210.9,1529.7" fill="none" stroke="#111" stroke-width="1.25" stroke-linejoin="miter"/><polyline points="203.9,1529.7 217.9,1529.7" fill="none" stroke="#111" stroke-width="1.3" stroke-linejoin="miter"/><polyline points="206.3,1533.7 215.5,1533.7" fill="none" stroke="#111" stroke-width="1.3" stroke-linejoin="miter"/><polyline points="208.8,1537.7 213,1537.7" fill="none" stroke="#111" stroke-width="1.3" stroke-linejoin="miter"/><circle cx="210.9" cy="1466.7" r="2.1" fill="#111"/><text x="219.9" y="1425.2" font-size="10.67" fill="#111">100</text><text x="219.9" y="1507.4" font-size="10.67" fill="#111">100</text><circle cx="171.1" cy="1466.7" r="3" fill="#111"/><polyline points="171.1,1466.7 187.8,1466.7" fill="none" stroke="#111" stroke-width="1.25" stroke-linejoin="miter"/><polyline points="187.8,1460.1 187.8,1473.3" fill="none" stroke="#111" stroke-width="1.4" stroke-linejoin="miter"/><path d="M194 1460.1 Q189.4 1466.7 194 1473.3" fill="none" stroke="#111" stroke-width="1.3"/><polyline points="191.8,1466.7 210.9,1466.7" fill="none" stroke="#111" stroke-width="1.25" stroke-linejoin="miter"/><text x="165.2" y="1458" font-size="10.67" fill="#111" letter-spacing="-0.7"><tspan dy="0" font-size="10.67">V</tspan><tspan dy="1.8" font-size="9">in</tspan></text><text x="179.2" y="1488.2" font-size="10.67" fill="#111">5.0uF</text><polyline points="210.9,1466.7 224.4,1466.7 226.42,1463.3 230.45,1470.1 234.48,1463.3 238.52,1470.1 242.55,1463.3 246.58,1470.1 248.6,1466.7 275.3,1466.7" fill="none" stroke="#111" stroke-width="1.25" stroke-linejoin="miter"/><text x="232" y="1458" font-size="10.67" fill="#111" letter-spacing="0.4"><tspan dy="0" font-size="10.67">R</tspan><tspan dy="2.2" font-size="9.2">B</tspan></text><circle cx="282.1" cy="1466.7" r="23.4" fill="none" stroke="#111" stroke-width="1.35"/><polyline points="275.3,1453.6 275.3,1483.4" fill="none" stroke="#111" stroke-width="1.7" stroke-linejoin="miter"/><polyline points="275.3,1460.6 290.4,1450 290.4,1434.7" fill="none" stroke="#111" stroke-width="1.25" stroke-linejoin="miter"/><polyline points="275.3,1473.3 290.4,1482.2 290.4,1529.7" fill="none" stroke="#111" stroke-width="1.25" stroke-linejoin="miter"/><polygon points="290.8,1482.6 279.6,1480.6 283.8,1473.4" fill="#111"/><polyline points="283.4,1529.7 297.4,1529.7" fill="none" stroke="#111" stroke-width="1.3" stroke-linejoin="miter"/><polyline points="285.8,1533.7 295,1533.7" fill="none" stroke="#111" stroke-width="1.3" stroke-linejoin="miter"/><polyline points="288.3,1537.7 292.5,1537.7" fill="none" stroke="#111" stroke-width="1.3" stroke-linejoin="miter"/><circle cx="290.4" cy="1514.3" r="2.1" fill="#111"/><circle cx="290.4" cy="1386.4" r="2.4" fill="#fff" stroke="#111" stroke-width="1.2"/><polyline points="290.4,1388.8 290.4,1407.3 293.8,1409.05 287,1412.55 293.8,1416.05 287,1419.55 293.8,1423.05 287,1426.55 290.4,1428.3 290.4,1434.7" fill="none" stroke="#111" stroke-width="1.25" stroke-linejoin="miter"/><circle cx="290.4" cy="1434.7" r="2.1" fill="#111"/><text x="282.3" y="1377.6" font-size="10.67" fill="#111" letter-spacing="-0.5"><tspan dy="0" font-size="10.67">V</tspan><tspan dy="2.8" font-size="9.2">CC</tspan></text><text x="303" y="1392" font-size="10.67" fill="#111">+40 V</text><text x="299.2" y="1424.8" font-size="10.67" fill="#111"><tspan dy="0" font-size="10.67">R</tspan><tspan dy="2.6" font-size="9">L</tspan></text><polyline points="290.4,1434.7 336.5,1434.7" fill="none" stroke="#111" stroke-width="1.25" stroke-linejoin="miter"/><circle cx="322.6" cy="1434.7" r="2.1" fill="#111"/><circle cx="338.9" cy="1434.7" r="2.4" fill="#fff" stroke="#111" stroke-width="1.2"/><text x="347.3" y="1439.8" font-size="10.67" fill="#111">OUTPUT</text><polyline points="322.6,1434.7 322.6,1476.2" fill="none" stroke="#111" stroke-width="1.3" stroke-linejoin="miter" stroke-dasharray="12.5 3.6"/><polyline points="317,1476.2 328.2,1476.2" fill="none" stroke="#111" stroke-width="1.4" stroke-linejoin="miter"/><path d="M317 1482.2 Q322.6 1477.2 328.2 1482.2" fill="none" stroke="#111" stroke-width="1.3"/><polyline points="322.6,1479.8 322.6,1514.3 290.4,1514.3" fill="none" stroke="#111" stroke-width="1.3" stroke-linejoin="miter" stroke-dasharray="12.5 3.6"/><text x="334" y="1483.4" font-size="10.67" fill="#111"><tspan dy="0" font-size="10.67">* C</tspan><tspan dy="2.4" font-size="9">S</tspan><tspan dy="-2.4" font-size="10.67">&lt; 6.0 pF</tspan></text><text x="197.4" y="1379.4" font-size="10.67" fill="#111">−1.0 V</text><circle cx="537.3" cy="1386.4" r="2.4" fill="#fff" stroke="#111" stroke-width="1.2"/><polyline points="537.3,1388.8 537.3,1407.8 540.7,1409.6 533.9,1413.2 540.7,1416.8 533.9,1420.4 540.7,1424 533.9,1427.6 537.3,1429.4 537.3,1466.7" fill="none" stroke="#111" stroke-width="1.25" stroke-linejoin="miter"/><polyline points="537.3,1466.7 537.3,1489.4 540.7,1491.2 533.9,1494.8 540.7,1498.4 533.9,1502 540.7,1505.6 533.9,1509.2 537.3,1511 537.3,1529.7" fill="none" stroke="#111" stroke-width="1.25" stroke-linejoin="miter"/><polyline points="530.3,1529.7 544.3,1529.7" fill="none" stroke="#111" stroke-width="1.3" stroke-linejoin="miter"/><polyline points="532.7,1533.7 541.9,1533.7" fill="none" stroke="#111" stroke-width="1.3" stroke-linejoin="miter"/><polyline points="535.2,1537.7 539.4,1537.7" fill="none" stroke="#111" stroke-width="1.3" stroke-linejoin="miter"/><circle cx="537.3" cy="1466.7" r="2.1" fill="#111"/><text x="546.3" y="1425.2" font-size="10.67" fill="#111">100</text><text x="546.3" y="1507.4" font-size="10.67" fill="#111">100</text><circle cx="497.5" cy="1466.7" r="3" fill="#111"/><polyline points="497.5,1466.7 514.2,1466.7" fill="none" stroke="#111" stroke-width="1.25" stroke-linejoin="miter"/><polyline points="514.2,1460.1 514.2,1473.3" fill="none" stroke="#111" stroke-width="1.4" stroke-linejoin="miter"/><path d="M520.4 1460.1 Q515.8 1466.7 520.4 1473.3" fill="none" stroke="#111" stroke-width="1.3"/><polyline points="518.2,1466.7 537.3,1466.7" fill="none" stroke="#111" stroke-width="1.25" stroke-linejoin="miter"/><text x="491.6" y="1458" font-size="10.67" fill="#111" letter-spacing="-0.7"><tspan dy="0" font-size="10.67">V</tspan><tspan dy="1.8" font-size="9">in</tspan></text><text x="505.6" y="1488.2" font-size="10.67" fill="#111">5.0<tspan font-family='&quot;Liberation Serif&quot;, serif'>µ</tspan>F</text><polyline points="537.3,1466.7 550.8,1466.7 552.82,1463.3 556.85,1470.1 560.88,1463.3 564.92,1470.1 568.95,1463.3 572.98,1470.1 575,1466.7 601.7,1466.7" fill="none" stroke="#111" stroke-width="1.25" stroke-linejoin="miter"/><text x="558.4" y="1458" font-size="10.67" fill="#111" letter-spacing="0.4"><tspan dy="0" font-size="10.67">R</tspan><tspan dy="2.2" font-size="9.2">B</tspan></text><circle cx="608.5" cy="1466.7" r="23.4" fill="none" stroke="#111" stroke-width="1.35"/><polyline points="601.7,1453.6 601.7,1483.4" fill="none" stroke="#111" stroke-width="1.7" stroke-linejoin="miter"/><polyline points="601.7,1460.6 616.8,1450 616.8,1434.7" fill="none" stroke="#111" stroke-width="1.25" stroke-linejoin="miter"/><polyline points="601.7,1473.3 616.8,1482.2 616.8,1529.7" fill="none" stroke="#111" stroke-width="1.25" stroke-linejoin="miter"/><polygon points="617.2,1482.6 606,1480.6 610.2,1473.4" fill="#111"/><polyline points="609.8,1529.7 623.8,1529.7" fill="none" stroke="#111" stroke-width="1.3" stroke-linejoin="miter"/><polyline points="612.2,1533.7 621.4,1533.7" fill="none" stroke="#111" stroke-width="1.3" stroke-linejoin="miter"/><polyline points="614.7,1537.7 618.9,1537.7" fill="none" stroke="#111" stroke-width="1.3" stroke-linejoin="miter"/><circle cx="616.8" cy="1514.3" r="2.1" fill="#111"/><circle cx="616.8" cy="1386.4" r="2.4" fill="#fff" stroke="#111" stroke-width="1.2"/><polyline points="616.8,1388.8 616.8,1407.3 620.2,1409.05 613.4,1412.55 620.2,1416.05 613.4,1419.55 620.2,1423.05 613.4,1426.55 616.8,1428.3 616.8,1434.7" fill="none" stroke="#111" stroke-width="1.25" stroke-linejoin="miter"/><circle cx="616.8" cy="1434.7" r="2.1" fill="#111"/><text x="608.7" y="1377.6" font-size="10.67" fill="#111" letter-spacing="-0.5"><tspan dy="0" font-size="10.67">V</tspan><tspan dy="2.8" font-size="9.2">CC</tspan></text><text x="626.4" y="1392" font-size="10.67" fill="#111">+40 V</text><text x="625.6" y="1424.8" font-size="10.67" fill="#111"><tspan dy="0" font-size="10.67">R</tspan><tspan dy="2.6" font-size="9">L</tspan></text><polyline points="616.8,1434.7 662.9,1434.7" fill="none" stroke="#111" stroke-width="1.25" stroke-linejoin="miter"/><circle cx="649" cy="1434.7" r="2.1" fill="#111"/><circle cx="665.3" cy="1434.7" r="2.4" fill="#fff" stroke="#111" stroke-width="1.2"/><text x="673.7" y="1439.8" font-size="10.67" fill="#111">OUTPUT</text><polyline points="649,1434.7 649,1476.2" fill="none" stroke="#111" stroke-width="1.3" stroke-linejoin="miter" stroke-dasharray="12.5 3.6"/><polyline points="643.4,1476.2 654.6,1476.2" fill="none" stroke="#111" stroke-width="1.4" stroke-linejoin="miter"/><path d="M643.4 1482.2 Q649 1477.2 654.6 1482.2" fill="none" stroke="#111" stroke-width="1.3"/><polyline points="649,1479.8 649,1514.3 616.8,1514.3" fill="none" stroke="#111" stroke-width="1.3" stroke-linejoin="miter" stroke-dasharray="12.5 3.6"/><text x="660.4" y="1483.4" font-size="10.67" fill="#111"><tspan dy="0" font-size="10.67">* C</tspan><tspan dy="2.4" font-size="9">S</tspan><tspan dy="-2.4" font-size="10.67">&lt; 6.0 pF</tspan></text><text x="524.2" y="1378.4" font-size="10.67" fill="#111"><tspan dy="0" font-size="10.67">+V</tspan><tspan dy="2.6" font-size="9.2">BB</tspan></text><polyline points="88,1466.5 103.8,1466.5 103.8,1434.9 136.1,1434.9 136.1,1466.5 152.3,1466.5" fill="none" stroke="#111" stroke-width="1.3" stroke-linejoin="miter"/><polyline points="103.8,1402.6 103.8,1427.3" fill="none" stroke="#111" stroke-width="1.2" stroke-linejoin="miter"/><polyline points="136.1,1402.6 136.1,1427.3" fill="none" stroke="#111" stroke-width="1.2" stroke-linejoin="miter"/><polyline points="75.8,1416.4 100,1416.4" fill="none" stroke="#111" stroke-width="1.2" stroke-linejoin="miter"/><polygon points="103.6,1416.4 95.6,1418.8 95.6,1414" fill="#111"/><polyline points="163.8,1416.4 140,1416.4" fill="none" stroke="#111" stroke-width="1.2" stroke-linejoin="miter"/><polygon points="136.3,1416.4 144.3,1414 144.3,1418.8" fill="#111"/><text x="120.6" y="1421.8" font-size="10.67" text-anchor="middle" fill="#111">5.0us</text><text x="75.6" y="1441.2" font-size="10.67" fill="#111">+10 V</text><text x="79.4" y="1470.4" font-size="10.67" fill="#111">0</text><text x="101.2" y="1481.8" font-size="10.67" fill="#111"><tspan dy="0" font-size="10.67">t</tspan><tspan dy="2.4" font-size="9.6">r</tspan><tspan dy="-2.4" font-size="10.67">= 3.0 ns</tspan></text><polyline points="414.3,1466.1 430.6,1466.1 430.6,1497.8 462.6,1497.8 462.6,1466.1 478.6,1466.1" fill="none" stroke="#111" stroke-width="1.3" stroke-linejoin="miter"/><polyline points="430.6,1505.8 430.6,1530.4" fill="none" stroke="#111" stroke-width="1.2" stroke-linejoin="miter"/><polyline points="462.6,1505.8 462.6,1530.4" fill="none" stroke="#111" stroke-width="1.2" stroke-linejoin="miter"/><polyline points="401.5,1519.5 427,1519.5" fill="none" stroke="#111" stroke-width="1.2" stroke-linejoin="miter"/><polygon points="430.4,1519.5 422.4,1521.9 422.4,1517.1" fill="#111"/><polyline points="489.9,1519.5 466,1519.5" fill="none" stroke="#111" stroke-width="1.2" stroke-linejoin="miter"/><polygon points="462.8,1519.5 470.8,1517.1 470.8,1521.9" fill="#111"/><text x="446.8" y="1524.8" font-size="10.67" text-anchor="middle" fill="#111">5.0us</text><text x="426.7" y="1547.8" font-size="10.67" fill="#111"><tspan dy="0" font-size="10.67">t</tspan><tspan dy="2.4" font-size="9.6">f</tspan><tspan dy="-2.4" font-size="10.67">= 3.0 ns</tspan></text></svg><svg style="left:0px;top:1570px" width="793" height="600" viewBox="0 1570 793 600" font-family='&quot;Liberation Sans&quot;, sans-serif'><text x="392" y="1586.8" font-size="12" text-anchor="middle" font-weight="bold" fill="#111">Figure 1. Switching Time Test Circuits</text><path d="M136.9 1606.8 V1798.4M154 1606.8 V1798.4M166.7 1606.8 V1798.4M178.5 1606.8 V1798.4M187.5 1606.8 V1798.4M195.7 1606.8 V1798.4M203.6 1606.8 V1798.4M208.6 1606.8 V1798.4M235 1606.8 V1798.4M249.3 1606.8 V1798.4M273.7 1606.8 V1798.4M290.9 1606.8 V1798.4M304.6 1606.8 V1798.4M315.1 1606.8 V1798.4M325.7 1606.8 V1798.4M334.1 1606.8 V1798.4M342 1606.8 V1798.4M347.3 1606.8 V1798.4M369.2 1606.8 V1798.4M112.4 1630.06 H385.8M112.4 1665.37 H385.8M112.4 1672.23 H385.8M112.4 1681.98 H385.8M112.4 1692.79 H385.8M112.4 1706.49 H385.8M112.4 1722.83 H385.8M112.4 1740.76 H385.8M112.4 1763.69 H385.8" stroke="#0a0a0a" stroke-width="1.05" fill="none"/><rect x="112.4" y="1606.8" width="273.4" height="191.6" fill="none" stroke="#0a0a0a" stroke-width="1.25"/><rect x="124.5" y="1620.5" width="59" height="26.7" fill="#fff"/><path d="M112.4 1721 C114.33 1718.67 119.92 1711.75 124 1707 C128.08 1702.25 131.9 1697.77 136.9 1692.5 C141.9 1687.23 149.03 1680.02 154 1675.4 C158.97 1670.78 162.62 1667.83 166.7 1664.8 C170.78 1661.77 173.67 1659.9 178.5 1657.2 C183.33 1654.5 190.68 1650.93 195.7 1648.6 C200.72 1646.27 204.22 1644.9 208.6 1643.2 C212.98 1641.5 217.6 1639.85 222 1638.4 C226.4 1636.95 230.43 1635.8 235 1634.5 C239.57 1633.2 245.23 1631.57 249.4 1630.6 C253.57 1629.63 255.95 1629.32 260 1628.7 C264.05 1628.08 270 1627.25 273.7 1626.9 C277.4 1626.55 279.33 1626.55 282.2 1626.6 C285.07 1626.65 287.6 1626.82 290.9 1627.2 C294.2 1627.58 297.97 1627.77 302 1628.9 C306.03 1630.03 311.15 1632.1 315.1 1634 C319.05 1635.9 322.53 1638.15 325.7 1640.3 C328.87 1642.45 330.5 1643.78 334.1 1646.9 C337.7 1650.02 343.22 1655.05 347.3 1659 C351.38 1662.95 354.95 1666.77 358.6 1670.6 C362.25 1674.43 365.9 1678 369.2 1682 C372.5 1686 375.63 1690.65 378.4 1694.6 C381.17 1698.55 384.57 1703.85 385.8 1705.7" fill="none" stroke="#111" stroke-width="2.05" stroke-linecap="butt"/><text x="126" y="1631.6" font-size="10.5" fill="#111"><tspan dy="0" font-size="10.5">V</tspan><tspan dy="2.4" font-size="8.8">CE</tspan><tspan dy="-2.4" font-size="10.5">= −2.0 V</tspan></text><text x="126" y="1644.4" font-size="10.5" fill="#111"><tspan dy="0" font-size="10.5">T</tspan><tspan dy="2.4" font-size="8.8">J</tspan><tspan dy="-2.4" font-size="10.5">= 25 °C</tspan></text><text x="109.2" y="1611.58" font-size="10.5" text-anchor="end" fill="#111">200</text><text x="109.2" y="1669.28" font-size="10.5" text-anchor="end" fill="#111">100</text><text x="109.2" y="1697.08" font-size="10.5" text-anchor="end" fill="#111">70</text><text x="109.2" y="1726.98" font-size="10.5" text-anchor="end" fill="#111">50</text><text x="109.2" y="1768.98" font-size="10.5" text-anchor="end" fill="#111">30</text><text x="109.2" y="1799.38" font-size="10.5" text-anchor="end" fill="#111">20</text><text x="92.6" y="1812.4" font-size="10.5" fill="#111" textLength="20.4" lengthAdjust="spacingAndGlyphs">−2.0</text><text x="119.1" y="1812.4" font-size="10.5" fill="#111" textLength="20.4" lengthAdjust="spacingAndGlyphs">−3.0</text><text x="152.3" y="1812.4" font-size="10.5" fill="#111" textLength="20.4" lengthAdjust="spacingAndGlyphs">−5.0</text><text x="177.8" y="1812.4" font-size="10.5" fill="#111" textLength="20.5" lengthAdjust="spacingAndGlyphs">−7.0</text><text x="209" y="1812.4" font-size="10.5" fill="#111" textLength="17.4" lengthAdjust="spacingAndGlyphs">−10</text><text x="244.2" y="1812.4" font-size="10.5" fill="#111" textLength="17.9" lengthAdjust="spacingAndGlyphs">−20</text><text x="272.8" y="1812.4" font-size="10.5" fill="#111" textLength="17.9" lengthAdjust="spacingAndGlyphs">−30</text><text x="307.3" y="1812.4" font-size="10.5" fill="#111" textLength="17.7" lengthAdjust="spacingAndGlyphs">−50</text><text x="331.2" y="1812.4" font-size="10.5" fill="#111" textLength="17.8" lengthAdjust="spacingAndGlyphs">−70</text><text x="352.6" y="1812.4" font-size="10.5" fill="#111" textLength="23.6" lengthAdjust="spacingAndGlyphs">−100</text><text x="382.4" y="1811" font-size="10.5" fill="#111" textLength="23.6" lengthAdjust="spacingAndGlyphs">−200</text><text x="183.5" y="1831.9" font-size="10.67" fill="#111"><tspan dy="0" font-size="10.67">I</tspan><tspan dy="2.4" font-size="9">C</tspan><tspan dy="-2.4" font-size="10.67">, COLLECTOR CURRENT (mA)</tspan></text><text x="249.1" y="1859" font-size="12" text-anchor="middle" font-weight="bold" fill="#111">Figure 2. Current−Gain — Bandwidth Product</text><text x="74.1" y="1718" font-size="10.8" text-anchor="middle" fill="#111" transform="rotate(-90 74.1 1718)" ><tspan dy="0" font-size="10.8">f</tspan><tspan dy="3" font-size="9">T</tspan><tspan dy="-3" font-size="10.8">, CURRENT−GAIN − BANDWIDTH PRODUCT (MHz)</tspan></text><path d="M460.1 1606.3 V1798.2M472.2 1606.3 V1798.2M489.3 1606.3 V1798.2M500.9 1606.3 V1798.2M509.1 1606.3 V1798.2M516.5 1606.3 V1798.2M522.8 1606.3 V1798.2M528.1 1606.3 V1798.2M533.3 1606.3 V1798.2M537 1606.3 V1798.2M554.4 1606.3 V1798.2M564.2 1606.3 V1798.2M580.5 1606.3 V1798.2M591.9 1606.3 V1798.2M601.1 1606.3 V1798.2M608.2 1606.3 V1798.2M614.8 1606.3 V1798.2M620.8 1606.3 V1798.2M626 1606.3 V1798.2M629.7 1606.3 V1798.2M644.6 1606.3 V1798.2M655.3 1606.3 V1798.2M672.3 1606.3 V1798.2M683.3 1606.3 V1798.2M692 1606.3 V1798.2M699.9 1606.3 V1798.2M706.3 1606.3 V1798.2M711.8 1606.3 V1798.2M716.3 1606.3 V1798.2M446.4 1611.61 H720.2M446.4 1618.99 H720.2M446.4 1628.75 H720.2M446.4 1638.76 H720.2M446.4 1651.68 H720.2M446.4 1664.59 H720.2M446.4 1682.25 H720.2M446.4 1709.14 H720.2M446.4 1727.06 H720.2M446.4 1754.73 H720.2M446.4 1759.48 H720.2M446.4 1766.86 H720.2M446.4 1775.29 H720.2M446.4 1785.84 H720.2" stroke="#0a0a0a" stroke-width="1.05" fill="none"/><rect x="446.4" y="1606.3" width="273.8" height="191.9" fill="none" stroke="#0a0a0a" stroke-width="1.25"/><rect x="665" y="1613.6" width="49.5" height="15.8" fill="#fff"/><rect x="596" y="1648.5" width="24" height="13.5" fill="#fff"/><rect x="688" y="1748.4" width="26.5" height="13.6" fill="#fff"/><path d="M446.4 1606.5 C448.67 1606.75 455.7 1607.45 460 1608 C464.3 1608.55 467.32 1608.93 472.2 1609.8 C477.08 1610.67 483.15 1611.75 489.3 1613.2 C495.45 1614.65 503.52 1616.88 509.1 1618.5 C514.68 1620.12 518.15 1621.28 522.8 1622.9 C527.45 1624.52 531.73 1626.22 537 1628.2 C542.27 1630.18 549.87 1632.95 554.4 1634.8 C558.93 1636.65 559.85 1637.1 564.2 1639.3 C568.55 1641.5 575.88 1645.52 580.5 1648 C585.12 1650.48 590 1653.17 591.9 1654.2" fill="none" stroke="#111" stroke-width="2.05" stroke-linecap="butt"/><path d="M446.4 1658.5 C448.68 1659.17 455.8 1661.18 460.1 1662.5 C464.4 1663.82 467.33 1664.78 472.2 1666.4 C477.07 1668.02 483.15 1670 489.3 1672.2 C495.45 1674.4 503.52 1677.6 509.1 1679.6 C514.68 1681.6 518.15 1682.43 522.8 1684.2 C527.45 1685.97 531.73 1687.67 537 1690.2 C542.27 1692.73 549.87 1696.77 554.4 1699.4 C558.93 1702.03 559.85 1703.37 564.2 1706 C568.55 1708.63 575.88 1712.57 580.5 1715.2 C585.12 1717.83 588.47 1719.73 591.9 1721.8 C595.33 1723.87 597.28 1725.1 601.1 1727.6 C604.92 1730.1 610.05 1733.87 614.8 1736.8 C619.55 1739.73 624.63 1742.57 629.6 1745.2 C634.57 1747.83 640.35 1750.7 644.6 1752.6 C648.85 1754.5 650.48 1755.15 655.1 1756.6 C659.72 1758.05 666.15 1759.83 672.3 1761.3 C678.45 1762.77 686.33 1764.43 692 1765.4 C697.67 1766.37 702.92 1766.77 706.3 1767.1 C709.68 1767.43 711.3 1767.35 712.3 1767.4" fill="none" stroke="#111" stroke-width="2.05" stroke-linecap="butt"/><text x="668.6" y="1625.4" font-size="10.5" fill="#111"><tspan dy="0" font-size="10.5">T</tspan><tspan dy="2.4" font-size="8.8">J</tspan><tspan dy="-2.4" font-size="10.5"> = 25 ° C</tspan></text><text x="597.4" y="1658.6" font-size="12" font-family='&quot;Liberation Serif&quot;, serif' fill="#111" letter-spacing="0.3"><tspan dy="0" font-size="12">C</tspan><tspan dy="2.4" font-size="8.6">ibo</tspan></text><text x="690.8" y="1758.6" font-size="12" font-family='&quot;Liberation Serif&quot;, serif' fill="#111" letter-spacing="0.3"><tspan dy="0" font-size="12">C</tspan><tspan dy="2.4" font-size="8.6">obo</tspan></text><text x="441.8" y="1611.48" font-size="10.5" text-anchor="end" fill="#111">100</text><text x="441.8" y="1633.28" font-size="10.5" text-anchor="end" fill="#111">70</text><text x="441.8" y="1656.28" font-size="10.5" text-anchor="end" fill="#111">50</text><text x="441.8" y="1686.58" font-size="10.5" text-anchor="end" fill="#111">30</text><text x="441.8" y="1714.28" font-size="10.5" text-anchor="end" fill="#111">20</text><text x="441.8" y="1759.28" font-size="10.5" text-anchor="end" fill="#111">10</text><text x="441.8" y="1779.58" font-size="10.5" text-anchor="end" fill="#111">7.0</text><text x="441.8" y="1801.78" font-size="10.5" text-anchor="end" fill="#111">5.0</text><text x="434" y="1812.4" font-size="10.5" fill="#111" textLength="19.6" lengthAdjust="spacingAndGlyphs">−0.1</text><text x="457.5" y="1812.4" font-size="10.5" fill="#111" textLength="20.2" lengthAdjust="spacingAndGlyphs">−0.2</text><text x="482" y="1812.4" font-size="10.5" fill="#111" textLength="21.6" lengthAdjust="spacingAndGlyphs">−0.5</text><text x="512.4" y="1810.8" font-size="10.5" fill="#111" textLength="18" lengthAdjust="spacingAndGlyphs">−1.0</text><text x="542.1" y="1810.8" font-size="10.5" fill="#111" textLength="19.6" lengthAdjust="spacingAndGlyphs">−2.0</text><text x="579.7" y="1812.4" font-size="10.5" fill="#111" textLength="20.7" lengthAdjust="spacingAndGlyphs">−5.0</text><text x="613.3" y="1812.4" font-size="10.5" fill="#111" textLength="17.9" lengthAdjust="spacingAndGlyphs">−10</text><text x="642.4" y="1812.4" font-size="10.5" fill="#111" textLength="17.4" lengthAdjust="spacingAndGlyphs">−20</text><text x="670.4" y="1810.8" font-size="10.5" fill="#111" textLength="18.5" lengthAdjust="spacingAndGlyphs">−50</text><text x="716.9" y="1811.2" font-size="10.5" fill="#111" textLength="21.7" lengthAdjust="spacingAndGlyphs">−100</text><text x="505.7" y="1841.5" font-size="10.67" fill="#111"><tspan dy="0" font-size="10.67">V</tspan><tspan dy="2.4" font-size="9">R</tspan><tspan dy="-2.4" font-size="10.67">, REVERSE VOLTAGE (VOLTS)</tspan></text><text x="581.9" y="1857.8" font-size="12" text-anchor="middle" font-weight="bold" fill="#111">Figure 3. Capacitance</text><text x="416.8" y="1696.4" font-size="10.67" text-anchor="middle" fill="#111" transform="rotate(-90 416.8 1696.4)" >C, CAPACITANCE (pF)</text><path d="M123.7 1904.5 V2096.1M132.4 1904.5 V2096.1M141.6 1904.5 V2096.1M148.8 1904.5 V2096.1M154.6 1904.5 V2096.1M179.6 1904.5 V2096.1M194.1 1904.5 V2096.1M219.1 1904.5 V2096.1M236.5 1904.5 V2096.1M249.6 1904.5 V2096.1M259.8 1904.5 V2096.1M270.3 1904.5 V2096.1M279 1904.5 V2096.1M286.9 1904.5 V2096.1M291.9 1904.5 V2096.1M314.3 1904.5 V2096.1M330.9 1904.5 V2096.1M355.2 1904.5 V2096.1M372.6 1904.5 V2096.1M112.4 1908.45 H386.4M112.4 1913.72 H386.4M112.4 1918.99 H386.4M112.4 1925.58 H386.4M112.4 1933.49 H386.4M112.4 1941.92 H386.4M112.4 1953.78 H386.4M112.4 1971.18 H386.4M112.4 1982.78 H386.4M112.4 2000.7 H386.4M112.4 2004.13 H386.4M112.4 2009.14 H386.4M112.4 2014.67 H386.4M112.4 2021 H386.4M112.4 2028.9 H386.4M112.4 2038.39 H386.4M112.4 2049.99 H386.4M112.4 2067.39 H386.4M112.4 2081.09 H386.4" stroke="#0a0a0a" stroke-width="1.05" fill="none"/><rect x="112.4" y="1904.5" width="274" height="191.6" fill="none" stroke="#0a0a0a" stroke-width="1.25"/><rect x="119.6" y="2037.4" width="59.2" height="53.1" fill="#fff"/><rect x="191.5" y="2068.4" width="95.7" height="26.3" fill="#fff"/><rect x="335.5" y="1938" width="18" height="15" fill="#fff"/><rect x="335.5" y="2012.5" width="18" height="15" fill="#fff"/><rect x="335.5" y="2072.5" width="18" height="15" fill="#fff"/><path d="M132.4 1904.5 C137 1905.17 149.73 1906.78 160 1908.5 C170.27 1910.22 184 1912.88 194 1914.8 C204 1916.72 209.65 1917.47 220 1920 C230.35 1922.53 244.12 1926.43 256.1 1930 C268.08 1933.57 281.25 1937.83 291.9 1941.4 C302.55 1944.97 313.5 1949.17 320 1951.4 C326.5 1953.63 325.03 1952.73 330.9 1954.8 C336.77 1956.87 348.82 1961.2 355.2 1963.8 C361.58 1966.4 365.4 1968.37 369.2 1970.4 C373 1972.43 375.15 1973.8 378 1976 C380.85 1978.2 384.92 1982.33 386.3 1983.6" fill="none" stroke="#111" stroke-width="2.05" stroke-linecap="butt"/><path d="M112.4 1907.9 C119.43 1913.27 143.33 1931.5 154.6 1940.1 C165.87 1948.7 171.92 1953.68 180 1959.5 C188.08 1965.32 193.87 1969.15 203.1 1975 C212.33 1980.85 223.87 1988.65 235.4 1994.6 C246.93 2000.55 262.88 2006.87 272.3 2010.7 C281.72 2014.53 284.9 2015.32 291.9 2017.6 C298.9 2019.88 307.8 2022.6 314.3 2024.4 C320.8 2026.2 325.72 2027.52 330.9 2028.4 C336.08 2029.28 341.35 2029.57 345.4 2029.7 C349.45 2029.83 350.67 2029.87 355.2 2029.2 C359.73 2028.53 367.42 2027.02 372.6 2025.7 C377.78 2024.38 384.02 2022.03 386.3 2021.3" fill="none" stroke="#111" stroke-width="2.05" stroke-linecap="butt"/><path d="M112.4 1908.4 C119.43 1913.8 143.33 1932.2 154.6 1940.8 C165.87 1949.4 171.92 1954.12 180 1960 C188.08 1965.88 193.87 1969.57 203.1 1976.1 C212.33 1982.63 223.87 1991.7 235.4 1999.2 C246.93 2006.7 262.88 2015.58 272.3 2021.1 C281.72 2026.62 284.9 2028.45 291.9 2032.3 C298.9 2036.15 307.8 2041.43 314.3 2044.2 C320.8 2046.97 325.72 2047.88 330.9 2048.9 C336.08 2049.92 341.35 2050.07 345.4 2050.3 C349.45 2050.53 350.67 2050.75 355.2 2050.3 C359.73 2049.85 367.42 2048.93 372.6 2047.6 C377.78 2046.27 384.02 2043.18 386.3 2042.3" fill="none" stroke="#111" stroke-width="2.05" stroke-linecap="butt"/><path d="M112.4 1941.9 C119.43 1946.87 143.33 1963.77 154.6 1971.7 C165.87 1979.63 171.92 1984.15 180 1989.5 C188.08 1994.85 193.87 1997.95 203.1 2003.8 C212.33 2009.65 223.87 2017.48 235.4 2024.6 C246.93 2031.72 262.32 2040.35 272.3 2046.5 C282.28 2052.65 287.68 2056.25 295.3 2061.5 C302.92 2066.75 312.07 2073.98 318 2078 C323.93 2082.02 326.73 2083.63 330.9 2085.6 C335.07 2087.57 338.95 2088.67 343 2089.8 C347.05 2090.93 350.27 2091.52 355.2 2092.4 C360.13 2093.28 367.42 2094.48 372.6 2095.1 C377.78 2095.72 384.02 2095.93 386.3 2096.1" fill="none" stroke="#111" stroke-width="2.05" stroke-linecap="butt"/><text x="121.2" y="2046.8" font-size="10.5" fill="#111"><tspan dy="0" font-size="10.5">V</tspan><tspan dy="2.4" font-size="8.8">CC</tspan><tspan dy="-2.4" font-size="10.5">= −40 V</tspan></text><text x="121.2" y="2060.5" font-size="10.5" fill="#111"><tspan dy="0" font-size="10.5">I</tspan><tspan dy="2.4" font-size="8.8">C</tspan><tspan dy="-2.4" font-size="10.5">/I</tspan><tspan dy="2.4" font-size="8.8">B</tspan><tspan dy="-2.4" font-size="10.5">= 10</tspan></text><text x="121.2" y="2074.4" font-size="10.5" fill="#111"><tspan dy="0" font-size="10.5">I</tspan><tspan dy="2.4" font-size="8.8">B1</tspan><tspan dy="-2.4" font-size="10.5">= I</tspan><tspan dy="2.4" font-size="8.8">B2</tspan></text><text x="121.2" y="2087.6" font-size="10.5" fill="#111"><tspan dy="0" font-size="10.5">T</tspan><tspan dy="2.4" font-size="8.8">J</tspan><tspan dy="-2.4" font-size="10.5">= 25°C</tspan></text><text x="192.3" y="2083.4" font-size="10.5" fill="#111"><tspan dy="0" font-size="10.5">t</tspan><tspan dy="0" font-size="8.2">d</tspan><tspan dy="0" font-size="10.5"> @ V</tspan><tspan dy="0" font-size="8.2">BE(off)</tspan><tspan dy="0" font-size="10.5"> = −0.5 V</tspan></text><text x="340.2" y="1948.6" font-size="12.5" font-family='&quot;Liberation Serif&quot;, serif' fill="#111" letter-spacing="0.6"><tspan dy="0" font-size="12.5">t</tspan><tspan dy="2.2" font-size="9.5">s</tspan></text><text x="340.2" y="2023.2" font-size="12.5" font-family='&quot;Liberation Serif&quot;, serif' fill="#111" letter-spacing="0.6"><tspan dy="0" font-size="12.5">t</tspan><tspan dy="2.2" font-size="9.5">f</tspan></text><text x="340.2" y="2083.2" font-size="12.5" font-family='&quot;Liberation Serif&quot;, serif' fill="#111" letter-spacing="0.6"><tspan dy="0" font-size="12.5">t</tspan><tspan dy="2.2" font-size="9.5">r</tspan></text><text x="106.3" y="1910.08" font-size="10.5" text-anchor="end" fill="#111">1.0 k</text><text x="106.3" y="1924.78" font-size="10.5" text-anchor="end" fill="#111">700</text><text x="106.3" y="1939.98" font-size="10.5" text-anchor="end" fill="#111">500</text><text x="106.3" y="1959.48" font-size="10.5" text-anchor="end" fill="#111">300</text><text x="106.3" y="1976.58" font-size="10.5" text-anchor="end" fill="#111">200</text><text x="106.3" y="2006.98" font-size="10.5" text-anchor="end" fill="#111">100</text><text x="106.3" y="2021.08" font-size="10.5" text-anchor="end" fill="#111">70</text><text x="106.3" y="2036.28" font-size="10.5" text-anchor="end" fill="#111">50</text><text x="106.3" y="2056.98" font-size="10.5" text-anchor="end" fill="#111">30</text><text x="106.3" y="2074.08" font-size="10.5" text-anchor="end" fill="#111">20</text><text x="106.3" y="2099.48" font-size="10.5" text-anchor="end" fill="#111">10</text><text x="104.3" y="2108.9" font-size="10.5" fill="#111" textLength="20.4" lengthAdjust="spacingAndGlyphs">−5.0</text><text x="127.3" y="2108.9" font-size="10.5" fill="#111" textLength="18.9" lengthAdjust="spacingAndGlyphs">−7.0</text><text x="148.7" y="2108.9" font-size="10.5" fill="#111" textLength="16.9" lengthAdjust="spacingAndGlyphs">−10</text><text x="187" y="2108.9" font-size="10.5" fill="#111" textLength="17.9" lengthAdjust="spacingAndGlyphs">−20</text><text x="212.6" y="2108.9" font-size="10.5" fill="#111" textLength="17.8" lengthAdjust="spacingAndGlyphs">−30</text><text x="235.6" y="2108.9" font-size="10.5" fill="#111" textLength="17.8" lengthAdjust="spacingAndGlyphs">−50</text><text x="258.5" y="2108.9" font-size="10.5" fill="#111" textLength="16.9" lengthAdjust="spacingAndGlyphs">−70</text><text x="280.5" y="2108.9" font-size="10.5" fill="#111" textLength="24" lengthAdjust="spacingAndGlyphs">−100</text><text x="317.3" y="2108.9" font-size="10.5" fill="#111" textLength="23" lengthAdjust="spacingAndGlyphs">−200</text><text x="342.8" y="2108.9" font-size="10.5" fill="#111" textLength="24" lengthAdjust="spacingAndGlyphs">−300</text><text x="377" y="2108.9" font-size="10.5" fill="#111" textLength="24" lengthAdjust="spacingAndGlyphs">−500</text><text x="179.4" y="2130.9" font-size="10.67" fill="#111"><tspan dy="0" font-size="10.67">I</tspan><tspan dy="2.4" font-size="9">C</tspan><tspan dy="-2.4" font-size="10.67">, COLLECTOR CURRENT (mA)</tspan></text><text x="249.6" y="2154.9" font-size="12" text-anchor="middle" font-weight="bold" fill="#111">Figure 4. Switching Time</text><text x="79.4" y="1996" font-size="10.67" text-anchor="middle" fill="#111" transform="rotate(-90 79.4 1996)" >t, TIME (ns)</text><path d="M454.26 1904.5 V2096.9M460.06 1904.5 V2096.9M464.81 1904.5 V2096.9M469.29 1904.5 V2096.9M473.51 1904.5 V2096.9M489.32 1904.5 V2096.9M500.92 1904.5 V2096.9M516.73 1904.5 V2096.9M528.07 1904.5 V2096.9M537.82 1904.5 V2096.9M544.41 1904.5 V2096.9M550.47 1904.5 V2096.9M554.95 1904.5 V2096.9M559.17 1904.5 V2096.9M563.65 1904.5 V2096.9M580.5 1904.5 V2096.9M591.1 1904.5 V2096.9M608.2 1904.5 V2096.9M618.8 1904.5 V2096.9M627.5 1904.5 V2096.9M635.1 1904.5 V2096.9M641.2 1904.5 V2096.9M645.6 1904.5 V2096.9M650.4 1904.5 V2096.9M655.1 1904.5 V2096.9M670.9 1904.5 V2096.9M682.8 1904.5 V2096.9M699.2 1904.5 V2096.9M711 1904.5 V2096.9M446.4 1926.11 H720.2M446.4 1960.64 H720.2M446.4 1984.36 H720.2M446.4 2019.15 H720.2M446.4 2027.06 H720.2M446.4 2037.6 H720.2M446.4 2048.14 H720.2M446.4 2061.85 H720.2M446.4 2077.66 H720.2" stroke="#0a0a0a" stroke-width="1.05" fill="none"/><rect x="446.4" y="1904.5" width="273.8" height="192.4" fill="none" stroke="#0a0a0a" stroke-width="1.25"/><rect x="476.5" y="1920.5" width="52.5" height="16" fill="#fff"/><rect x="510.5" y="1966.5" width="26.5" height="13.5" fill="#fff"/><rect x="504.5" y="2001" width="33" height="14.2" fill="#fff"/><rect x="662" y="1933" width="57.2" height="15.5" fill="#fff"/><path d="M446.4 1945.4 C450.83 1945.13 463.92 1944.25 473 1943.8 C482.08 1943.35 489.73 1942.98 500.9 1942.7 C512.07 1942.42 528.48 1942.2 540 1942.1 C551.52 1942 561.48 1942.05 570 1942.1 C578.52 1942.15 584.73 1942.08 591.1 1942.4 C597.47 1942.72 602.13 1943.28 608.2 1944 C614.27 1944.72 619.68 1945.15 627.5 1946.7 C635.32 1948.25 647.87 1951.12 655.1 1953.3 C662.33 1955.48 666.28 1956.73 670.9 1959.8 C675.52 1962.87 679.42 1967.3 682.8 1971.7 C686.18 1976.1 688.47 1980.93 691.2 1986.2 C693.93 1991.47 695.9 1994.73 699.2 2003.3 C702.5 2011.87 707.5 2027.72 711 2037.6 C714.5 2047.48 718.67 2058.43 720.2 2062.6" fill="none" stroke="#111" stroke-width="2.05" stroke-linecap="butt"/><path d="M446.4 1984.4 C450.83 1984.15 463.92 1983.35 473 1982.9 C482.08 1982.45 489.73 1982.02 500.9 1981.7 C512.07 1981.38 528.48 1981.13 540 1981 C551.52 1980.87 558.63 1980.82 570 1980.9 C581.37 1980.98 594.02 1981.18 608.2 1981.5 C622.38 1981.82 644.65 1982.38 655.1 1982.8 C665.55 1983.22 667.07 1983.33 670.9 1984 C674.73 1984.67 675.58 1984.9 678.1 1986.8 C680.62 1988.7 682.48 1990.67 686 1995.4 C689.52 2000.13 695.03 2007.73 699.2 2015.2 C703.37 2022.67 707.5 2033.17 711 2040.2 C714.5 2047.23 718.67 2054.53 720.2 2057.4" fill="none" stroke="#111" stroke-width="2.05" stroke-linecap="butt"/><path d="M446.4 2021 C450.92 2020.57 464.42 2019.07 473.5 2018.4 C482.58 2017.73 489.82 2017.32 500.9 2017 C511.98 2016.68 528.48 2016.58 540 2016.5 C551.52 2016.42 558.63 2016.42 570 2016.5 C581.37 2016.58 597.35 2016.68 608.2 2017 C619.05 2017.32 627.28 2017.82 635.1 2018.4 C642.92 2018.98 649.13 2019.5 655.1 2020.5 C661.07 2021.5 666.28 2023.08 670.9 2024.4 C675.52 2025.72 678.08 2026.2 682.8 2028.4 C687.52 2030.6 694.5 2034.32 699.2 2037.6 C703.9 2040.88 708.15 2044.58 711 2048.1 C713.85 2051.62 714.77 2054.73 716.3 2058.7 C717.83 2062.67 719.55 2069.7 720.2 2071.9" fill="none" stroke="#111" stroke-width="2.05" stroke-linecap="butt"/><text x="478.5" y="1932.4" font-size="10.5" fill="#111"><tspan dy="0" font-size="10.5">T</tspan><tspan dy="2.4" font-size="8.8">J</tspan><tspan dy="-2.4" font-size="10.5">=  125°C</tspan></text><text x="512.3" y="1978" font-size="10.5" fill="#111">25°C</text><text x="506.5" y="2012.8" font-size="10.5" fill="#111">−55°C</text><text x="663.6" y="1944.4" font-size="10.5" fill="#111"><tspan dy="0" font-size="10.5">V</tspan><tspan dy="2.4" font-size="8.8">CE</tspan><tspan dy="-2.4" font-size="10.5">= −1.0 V</tspan></text><text x="444.4" y="1909.48" font-size="10.5" text-anchor="end" fill="#111">400</text><text x="444.4" y="1964.58" font-size="10.5" text-anchor="end" fill="#111">200</text><text x="444.4" y="2022.78" font-size="10.5" text-anchor="end" fill="#111">100</text><text x="444.4" y="2041.68" font-size="10.5" text-anchor="end" fill="#111">80</text><text x="444.4" y="2066.38" font-size="10.5" text-anchor="end" fill="#111">60</text><text x="444.4" y="2099.38" font-size="10.5" text-anchor="end" fill="#111">40</text><text x="436.8" y="2108.5" font-size="10.5" fill="#111" textLength="21.3" lengthAdjust="spacingAndGlyphs">−0.5</text><text x="464.8" y="2108.5" font-size="10.5" fill="#111" textLength="21.3" lengthAdjust="spacingAndGlyphs">−1.0</text><text x="491.1" y="2108.5" font-size="10.5" fill="#111" textLength="18.5" lengthAdjust="spacingAndGlyphs">−2.0</text><text x="524.8" y="2108.5" font-size="10.5" fill="#111" textLength="21.2" lengthAdjust="spacingAndGlyphs">−5.0</text><text x="548.9" y="2108.5" font-size="10.5" fill="#111" textLength="17.9" lengthAdjust="spacingAndGlyphs">−10</text><text x="568.5" y="2108.5" font-size="10.5" fill="#111" textLength="18.4" lengthAdjust="spacingAndGlyphs">−20</text><text x="608.8" y="2108.5" font-size="10.5" fill="#111" textLength="17.4" lengthAdjust="spacingAndGlyphs">−50</text><text x="634.6" y="2108.5" font-size="10.5" fill="#111" textLength="23.5" lengthAdjust="spacingAndGlyphs">−100</text><text x="665.4" y="2108.5" font-size="10.5" fill="#111" textLength="24.6" lengthAdjust="spacingAndGlyphs">−200</text><text x="708.5" y="2108.5" font-size="10.5" fill="#111" textLength="24.1" lengthAdjust="spacingAndGlyphs">−500</text><text x="516.9" y="2129.2" font-size="10.67" fill="#111"><tspan dy="0" font-size="10.67">I</tspan><tspan dy="2.4" font-size="9">C</tspan><tspan dy="-2.4" font-size="10.67">, COLLECTOR CURRENT (mA)</tspan></text><text x="582.5" y="2155.5" font-size="12" text-anchor="middle" font-weight="bold" fill="#111">Figure 5. DC Current Gain</text><text x="413.3" y="2001" font-size="10.85" text-anchor="middle" fill="#111" transform="rotate(-90 413.3 2001)" ><tspan dy="0" font-size="10.85">h</tspan><tspan dy="3.2" font-size="9.4">FE</tspan><tspan dy="-3.2" font-size="10.85">, DC CURRENT GAIN</tspan></text></svg></div>
<div class="fline"></div><div class="furl">www.ejiguan.cn</div><div class="pnum" style="left:42px;top:1050.8px;">2</div>
</div>
<div class="page" style="top:2244px">
<svg style="position:absolute;left:90px;top:36px" width="90" height="84" viewBox="90 36 90 84"><path d="M164.08 97.8 A36 36 0 0 1 102.92 97.8 Z" fill="#154a98"/><path d="M167 71.68 A34.25 34.25 0 1 1 164.02 63.25" fill="none" stroke="#154a98" stroke-width="3.5"/><clipPath id="lgc3"><rect x="100" y="70.1" width="72" height="18"/></clipPath><g clip-path="url(#lgc3)" fill="none" stroke-width="3.9"><path d="M105.9 68.1 L122.3 90.1 M122.3 68.1 L105.9 90.1" stroke="#154a98"/><path d="M142.5 68.1 L126.1 90.1" stroke="#3aaa35" stroke-width="3.6"/><path d="M128.6 68.1 L139.7 88.4 L148.7 71.6 L157.2 88.4 L167 67.2" stroke="#154a98" stroke-linejoin="round"/></g><path d="M118.3 105.8 H148.7" stroke="#fff" stroke-width="1.4"/><polygon points="126.6,99.8 126.6,112 139,105.8" fill="#fff"/><path d="M139.8 99.6 V112.4" stroke="#fff" stroke-width="1.8"/></svg><div class="cn" style="left:81.5px;top:114px;">烜芯微</div><div class="py" style="left:81.6px;top:150px;">XUANXINWEI</div><div class="bar"></div><div class="bart" style="left:315.3px;">SMD Type</div><div class="bart" style="left:590.3px;">Transistors</div><div class="ttl" style="left:298.5px;top:130px;">PNP&nbsp; Transistors</div><div class="ttl" style="left:329px;top:165px;">MMBTA55</div>
<div style="left:0;top:-2244px;width:793px;height:1122px"><div style="left:97.8px;top:2447px;width:9px;height:9px;background:#111"></div><div class="t" style="top:2444.92px;font-size:13.33px;left:114px;">Typical  Characterisitics</div><svg style="left:0px;top:2440px" width="793" height="600" viewBox="0 2440 793 600" font-family='&quot;Liberation Sans&quot;, sans-serif'><path d="M122.95 2470.6 V2662.2M128.75 2470.6 V2662.2M134.02 2470.6 V2662.2M138.76 2470.6 V2662.2M144.03 2470.6 V2662.2M160.64 2470.6 V2662.2M170.39 2470.6 V2662.2M184.89 2470.6 V2662.2M196.75 2470.6 V2662.2M203.86 2470.6 V2662.2M211.77 2470.6 V2662.2M218.36 2470.6 V2662.2M224.42 2470.6 V2662.2M229.17 2470.6 V2662.2M233.65 2470.6 V2662.2M250.5 2470.6 V2662.2M261.6 2470.6 V2662.2M276.1 2470.6 V2662.2M286.9 2470.6 V2662.2M294.6 2470.6 V2662.2M302.5 2470.6 V2662.2M310.6 2470.6 V2662.2M316.4 2470.6 V2662.2M320.9 2470.6 V2662.2M325.1 2470.6 V2662.2M341.5 2470.6 V2662.2M352 2470.6 V2662.2M368.4 2470.6 V2662.2M380.5 2470.6 V2662.2M115 2489.76 H389.4M115 2508.92 H389.4M115 2528.08 H389.4M115 2547.24 H389.4M115 2566.4 H389.4M115 2585.56 H389.4M115 2604.72 H389.4M115 2623.88 H389.4M115 2643.04 H389.4" stroke="#0a0a0a" stroke-width="1.05" fill="none"/><rect x="115" y="2470.6" width="274.4" height="191.6" fill="none" stroke="#0a0a0a" stroke-width="1.25"/><rect x="116.4" y="2472.2" width="52.2" height="16.8" fill="#fff"/><rect x="179.6" y="2506.2" width="94.9" height="19.2" fill="#fff"/><rect x="175.7" y="2549.4" width="107.8" height="16.8" fill="#fff"/><rect x="129" y="2631.6" width="98" height="15" fill="#fff"/><path d="M115 2549.6 C119.83 2549.07 134.77 2547.5 144 2546.4 C153.23 2545.3 160.42 2544.4 170.4 2543 C180.38 2541.6 193.37 2539.67 203.9 2538 C214.43 2536.33 225.92 2534.4 233.6 2533 C241.28 2531.6 245.33 2530.7 250 2529.6 C254.67 2528.5 254.17 2527.97 261.6 2526.4 C269.03 2524.83 284.02 2522.48 294.6 2520.2 C305.18 2517.92 315.53 2515.27 325.1 2512.7 C334.67 2510.13 344.78 2506.98 352 2504.8 C359.22 2502.62 362.17 2501.8 368.4 2499.6 C374.63 2497.4 385.9 2492.93 389.4 2491.6" fill="none" stroke="#111" stroke-width="2.05" stroke-linecap="butt"/><path d="M115 2556 C119.83 2555.43 134.77 2553.8 144 2552.6 C153.23 2551.4 160.42 2550.17 170.4 2548.8 C180.38 2547.43 193.37 2545.72 203.9 2544.4 C214.43 2543.08 225.92 2541.92 233.6 2540.9 C241.28 2539.88 245.33 2539.03 250 2538.3 C254.67 2537.57 254.17 2537.9 261.6 2536.5 C269.03 2535.1 284.02 2532.1 294.6 2529.9 C305.18 2527.7 315.53 2525.63 325.1 2523.3 C334.67 2520.97 344.78 2517.88 352 2515.9 C359.22 2513.92 362.17 2513.15 368.4 2511.4 C374.63 2509.65 385.9 2506.4 389.4 2505.4" fill="none" stroke="#111" stroke-width="2.05" stroke-linecap="butt"/><path d="M115 2647.7 C119.83 2648.22 134.77 2649.83 144 2650.8 C153.23 2651.77 160.42 2652.62 170.4 2653.5 C180.38 2654.38 193.37 2655.4 203.9 2656.1 C214.43 2656.8 225.92 2657.37 233.6 2657.7 C241.28 2658.03 245.33 2658.1 250 2658.1 C254.67 2658.1 254.17 2658.33 261.6 2657.7 C269.03 2657.07 284.02 2655.67 294.6 2654.3 C305.18 2652.93 315.53 2651.4 325.1 2649.5 C334.67 2647.6 344.78 2644.97 352 2642.9 C359.22 2640.83 362.17 2639.38 368.4 2637.1 C374.63 2634.82 385.9 2630.52 389.4 2629.2" fill="none" stroke="#111" stroke-width="2.05" stroke-linecap="butt"/><text x="125.6" y="2485.4" font-size="10.5" fill="#111"><tspan dy="0" font-size="10.5">T</tspan><tspan dy="0" font-size="8.9">J</tspan><tspan dy="0" font-size="10.5"> = 25°C</tspan></text><text x="187" y="2518.4" font-size="10.5" fill="#111"><tspan dy="0" font-size="10.5">V</tspan><tspan dy="0" font-size="8.9">BE(sat)</tspan><tspan dy="0" font-size="10.5"> @ I</tspan><tspan dy="0" font-size="8.9">C</tspan><tspan dy="0" font-size="10.5">/I</tspan><tspan dy="0" font-size="8.9">B</tspan><tspan dy="0" font-size="10.5"> = 10</tspan></text><text x="183.6" y="2560.5" font-size="10.5" fill="#111"><tspan dy="0" font-size="10.5">V</tspan><tspan dy="0" font-size="8.9">BE(on)</tspan><tspan dy="0" font-size="10.5"> @ V</tspan><tspan dy="0" font-size="8.9">CE</tspan><tspan dy="0" font-size="10.5"> = −1.0 V</tspan></text><text x="136.1" y="2643" font-size="10.5" fill="#111"><tspan dy="0" font-size="10.5">V</tspan><tspan dy="0" font-size="8.9">CE(sat)</tspan><tspan dy="0" font-size="10.5"> @ I</tspan><tspan dy="0" font-size="8.9">C</tspan><tspan dy="0" font-size="10.5">/I</tspan><tspan dy="0" font-size="8.9">B</tspan><tspan dy="0" font-size="10.5"> = 10</tspan></text><text x="109.2" y="2475.38" font-size="10.5" text-anchor="end" fill="#111">−1.0</text><text x="109.2" y="2513.68" font-size="10.5" text-anchor="end" fill="#111">−0.8</text><text x="109.2" y="2551.98" font-size="10.5" text-anchor="end" fill="#111">−0.6</text><text x="109.2" y="2590.18" font-size="10.5" text-anchor="end" fill="#111">−0.4</text><text x="109.2" y="2628.48" font-size="10.5" text-anchor="end" fill="#111">−0.2</text><text x="109.2" y="2664.58" font-size="10.5" text-anchor="end" fill="#111">0</text><text x="101.2" y="2675.4" font-size="10.5" fill="#111" textLength="18.4" lengthAdjust="spacingAndGlyphs">−0.5</text><text x="129.3" y="2675.4" font-size="10.5" fill="#111" textLength="21" lengthAdjust="spacingAndGlyphs">−1.0</text><text x="154.9" y="2675.4" font-size="10.5" fill="#111" textLength="16.8" lengthAdjust="spacingAndGlyphs">−2.0</text><text x="188.6" y="2675.4" font-size="10.5" fill="#111" textLength="16.3" lengthAdjust="spacingAndGlyphs">−5.0</text><text x="220.2" y="2675.4" font-size="10.5" fill="#111" textLength="16.4" lengthAdjust="spacingAndGlyphs">−10</text><text x="248.3" y="2675.4" font-size="10.5" fill="#111" textLength="16.9" lengthAdjust="spacingAndGlyphs">−20</text><text x="285.1" y="2675.4" font-size="10.5" fill="#111" textLength="16.9" lengthAdjust="spacingAndGlyphs">−50</text><text x="310.6" y="2675.4" font-size="10.5" fill="#111" textLength="23" lengthAdjust="spacingAndGlyphs">−100</text><text x="338.7" y="2675.4" font-size="10.5" fill="#111" textLength="19.4" lengthAdjust="spacingAndGlyphs">−200</text><text x="374.5" y="2675.4" font-size="10.5" fill="#111" textLength="19.4" lengthAdjust="spacingAndGlyphs">−500</text><text x="179.4" y="2695.9" font-size="10.67" fill="#111"><tspan dy="0" font-size="10.67">I</tspan><tspan dy="2.4" font-size="9">C</tspan><tspan dy="-2.4" font-size="10.67">, COLLECTOR CURRENT (mA)</tspan></text><text x="249" y="2720.4" font-size="12" text-anchor="middle" font-weight="bold" fill="#111">Figure 6. “ON” Voltages</text><text x="79.4" y="2558.6" font-size="10.67" text-anchor="middle" fill="#111" transform="rotate(-90 79.4 2558.6)" >V, VOLTAGE (VOLTS)</text><path d="M458.2 2473.7 V2665.3M464.3 2473.7 V2665.3M470.1 2473.7 V2665.3M475.3 2473.7 V2665.3M479.6 2473.7 V2665.3M506.3 2473.7 V2665.3M520.6 2473.7 V2665.3M532.1 2473.7 V2665.3M539.5 2473.7 V2665.3M547.8 2473.7 V2665.3M554.4 2473.7 V2665.3M561 2473.7 V2665.3M565.6 2473.7 V2665.3M569.6 2473.7 V2665.3M597.6 2473.7 V2665.3M611.9 2473.7 V2665.3M623 2473.7 V2665.3M631.1 2473.7 V2665.3M638.8 2473.7 V2665.3M646.2 2473.7 V2665.3M652.8 2473.7 V2665.3M658 2473.7 V2665.3M662 2473.7 V2665.3M688.5 2473.7 V2665.3M704.2 2473.7 V2665.3M716.5 2473.7 V2665.3M451.1 2492.86 H725.2M451.1 2512.02 H725.2M451.1 2531.18 H725.2M451.1 2550.34 H725.2M451.1 2569.5 H725.2M451.1 2588.66 H725.2M451.1 2607.82 H725.2M451.1 2626.98 H725.2M451.1 2646.14 H725.2" stroke="#0a0a0a" stroke-width="1.05" fill="none"/><rect x="451.1" y="2473.7" width="274.1" height="191.6" fill="none" stroke="#0a0a0a" stroke-width="1.25"/><rect x="484" y="2517" width="39" height="24.5" fill="#fff"/><rect x="469" y="2603.5" width="35" height="26" fill="#fff"/><rect x="556.5" y="2517" width="42.5" height="24.5" fill="#fff"/><rect x="606" y="2517" width="44" height="24.5" fill="#fff"/><rect x="656.5" y="2517" width="45.5" height="26" fill="#fff"/><rect x="673" y="2481.5" width="51" height="15.5" fill="#fff"/><path d="M461.1 2473.7 C461.18 2481.42 461.45 2503.95 461.6 2520 C461.75 2536.05 461.87 2556.33 462 2570 C462.13 2583.67 462.2 2594.17 462.4 2602 C462.6 2609.83 462.78 2612.9 463.2 2617 C463.62 2621.1 463.85 2623.68 464.9 2626.6 C465.95 2629.52 466.53 2631.52 469.5 2634.5 C472.47 2637.48 476.55 2641.65 482.7 2644.5 C488.85 2647.35 498.05 2649.53 506.4 2651.6 C514.75 2653.67 522.25 2655.48 532.8 2656.9 C543.35 2658.32 563.55 2659.57 569.7 2660.1" fill="none" stroke="#111" stroke-width="2" stroke-linecap="butt"/><path d="M523.6 2473.7 C523.63 2483.08 523.72 2511.98 523.8 2530 C523.88 2548.02 523.97 2569.8 524.1 2581.8 C524.23 2593.8 524.38 2596.73 524.6 2602 C524.82 2607.27 524.7 2609.3 525.4 2613.4 C526.1 2617.5 527.13 2623.08 528.8 2626.6 C530.47 2630.12 532.1 2632.08 535.4 2634.5 C538.7 2636.92 542.88 2639.12 548.6 2641.1 C554.32 2643.08 561.57 2644.2 569.7 2646.4 C577.83 2648.6 590.37 2652.55 597.4 2654.3 C604.43 2656.05 606.4 2655.93 611.9 2656.9 C617.4 2657.87 627.32 2659.57 630.4 2660.1" fill="none" stroke="#111" stroke-width="2" stroke-linecap="butt"/><path d="M549.4 2473.7 C549.63 2478.08 550.27 2490.77 550.8 2500 C551.33 2509.23 551.73 2516.35 552.6 2529.1 C553.47 2541.85 554.68 2563.77 556 2576.5 C557.32 2589.23 558.88 2597.58 560.5 2605.5 C562.12 2613.42 564.17 2619.6 565.7 2624 C567.23 2628.4 567.72 2629.48 569.7 2631.9 C571.68 2634.32 574.22 2636.42 577.6 2638.5 C580.98 2640.58 586.7 2643.08 590 2644.4 C593.3 2645.72 590.55 2645.33 597.4 2646.4 C604.25 2647.47 620.33 2649.35 631.1 2650.8 C641.87 2652.25 656.85 2654.38 662 2655.1" fill="none" stroke="#111" stroke-width="2" stroke-linecap="butt"/><path d="M600 2473.7 C600.2 2477.25 600.75 2487.97 601.2 2495 C601.65 2502.03 601.8 2505.83 602.7 2515.9 C603.6 2525.97 605.07 2543.53 606.6 2555.4 C608.13 2567.27 609.7 2578.75 611.9 2587.1 C614.1 2595.45 616.6 2599.35 619.8 2605.5 C623 2611.65 628.07 2619.67 631.1 2624 C634.13 2628.33 635.48 2629.22 638 2631.5 C640.52 2633.78 642.2 2636.1 646.2 2637.7 C650.2 2639.3 656.3 2640.1 662 2641.1 C667.7 2642.1 674.78 2642.92 680.4 2643.7 C686.02 2644.48 693.15 2645.45 695.7 2645.8" fill="none" stroke="#111" stroke-width="2" stroke-linecap="butt"/><path d="M651.4 2473.7 C651.45 2478.08 651.57 2490.77 651.7 2500 C651.83 2509.23 651.58 2518.55 652.2 2529.1 C652.82 2539.65 653.98 2551.88 655.4 2563.3 C656.82 2574.72 658.95 2588.37 660.7 2597.6 C662.45 2606.83 663.93 2613.78 665.9 2618.7 C667.87 2623.62 668.77 2624.9 672.5 2627.1 C676.23 2629.3 682.72 2630.92 688.3 2631.9 C693.88 2632.88 699.85 2632.7 706 2633 C712.15 2633.3 722 2633.58 725.2 2633.7" fill="none" stroke="#111" stroke-width="2" stroke-linecap="butt"/><text x="493.4" y="2528.4" font-size="10.5" fill="#111"><tspan dy="0" font-size="10.5">I</tspan><tspan dy="2.4" font-size="8.8">C</tspan><tspan dy="-2.4" font-size="10.5"> =</tspan></text><text x="485.4" y="2540.8" font-size="10.5" fill="#111">−50 mA</text><text x="565.8" y="2528.4" font-size="10.5" fill="#111"><tspan dy="0" font-size="10.5">I</tspan><tspan dy="2.4" font-size="8.8">C</tspan><tspan dy="-2.4" font-size="10.5"> =</tspan></text><text x="557.8" y="2540.8" font-size="10.5" fill="#111">−100 mA</text><text x="615.2" y="2528.4" font-size="10.5" fill="#111"><tspan dy="0" font-size="10.5">I</tspan><tspan dy="2.4" font-size="8.8">C</tspan><tspan dy="-2.4" font-size="10.5"> =</tspan></text><text x="607.2" y="2540.8" font-size="10.5" fill="#111">−250 mA</text><text x="665.5" y="2528.8" font-size="10.5" fill="#111"><tspan dy="0" font-size="10.5">I</tspan><tspan dy="2.4" font-size="8.8">C</tspan><tspan dy="-2.4" font-size="10.5"> =</tspan></text><text x="657.5" y="2542.2" font-size="10.5" fill="#111">−500 mA</text><text x="478.4" y="2614.2" font-size="10.5" fill="#111"><tspan dy="0" font-size="10.5">I</tspan><tspan dy="0" font-size="8.2">C</tspan><tspan dy="0" font-size="10.5">=</tspan></text><text x="477.4" y="2628.4" font-size="10.5" fill="#111">-10mA</text><text x="677.3" y="2493.4" font-size="10.5" fill="#111"><tspan dy="0" font-size="10.5">T</tspan><tspan dy="2.4" font-size="8.8">J</tspan><tspan dy="-2.4" font-size="10.5">= 25°C</tspan></text><text x="445.3" y="2478.28" font-size="10.5" text-anchor="end" fill="#111">−1.0</text><text x="445.3" y="2516.58" font-size="10.5" text-anchor="end" fill="#111">−0.8</text><text x="445.3" y="2554.88" font-size="10.5" text-anchor="end" fill="#111">−0.6</text><text x="445.3" y="2593.28" font-size="10.5" text-anchor="end" fill="#111">−0.4</text><text x="445.3" y="2631.58" font-size="10.5" text-anchor="end" fill="#111">−0.2</text><text x="445.3" y="2668.28" font-size="10.5" text-anchor="end" fill="#111">0</text><text x="435.7" y="2678.5" font-size="10.5" fill="#111" textLength="26.3" lengthAdjust="spacingAndGlyphs">−0.05</text><text x="468.7" y="2678.5" font-size="10.5" fill="#111" textLength="17.4" lengthAdjust="spacingAndGlyphs">−0.1</text><text x="495.6" y="2678.5" font-size="10.5" fill="#111" textLength="20.8" lengthAdjust="spacingAndGlyphs">−0.2</text><text x="534.8" y="2678.5" font-size="10.5" fill="#111" textLength="20.8" lengthAdjust="spacingAndGlyphs">−0.5</text><text x="560" y="2678.5" font-size="10.5" fill="#111" textLength="21.3" lengthAdjust="spacingAndGlyphs">−1.0</text><text x="588" y="2678.5" font-size="10.5" fill="#111" textLength="21.4" lengthAdjust="spacingAndGlyphs">−2.0</text><text x="625.6" y="2678.5" font-size="10.5" fill="#111" textLength="21.3" lengthAdjust="spacingAndGlyphs">−5.0</text><text x="652.5" y="2678.5" font-size="10.5" fill="#111" textLength="15.7" lengthAdjust="spacingAndGlyphs">−10</text><text x="679.4" y="2678.5" font-size="10.5" fill="#111" textLength="17.9" lengthAdjust="spacingAndGlyphs">−20</text><text x="716.9" y="2680.1" font-size="10.5" fill="#111" textLength="17.9" lengthAdjust="spacingAndGlyphs">−50</text><text x="537.6" y="2698.7" font-size="10.67" fill="#111"><tspan dy="0" font-size="10.67">I</tspan><tspan dy="2.4" font-size="9">B</tspan><tspan dy="-2.4" font-size="10.67">, BASE CURRENT (mA)</tspan></text><text x="588.6" y="2725" font-size="12" text-anchor="middle" font-weight="bold" fill="#111">Figure 7. Collector Saturation Region</text><text x="413.3" y="2574.6" font-size="10.67" text-anchor="middle" fill="#111" transform="rotate(-90 413.3 2574.6)" ><tspan dy="0" font-size="10.67">V</tspan><tspan dy="3.2" font-size="9.4">CE</tspan><tspan dy="-3.2" font-size="10.67">, COLLECTOR−EMITTER VOLTAGE (VOLTS)</tspan></text><path d="M283.74 2761.6 V2953.5M290.33 2761.6 V2953.5M296.13 2761.6 V2953.5M301.4 2761.6 V2953.5M305.35 2761.6 V2953.5M322.48 2761.6 V2953.5M331.71 2761.6 V2953.5M346.2 2761.6 V2953.5M358.07 2761.6 V2953.5M365.97 2761.6 V2953.5M373.09 2761.6 V2953.5M380.47 2761.6 V2953.5M386.53 2761.6 V2953.5M391.54 2761.6 V2953.5M395.49 2761.6 V2953.5M412.39 2761.6 V2953.5M422.93 2761.6 V2953.5M437.69 2761.6 V2953.5M448.23 2761.6 V2953.5M456.67 2761.6 V2953.5M464.58 2761.6 V2953.5M471.96 2761.6 V2953.5M478.28 2761.6 V2953.5M483.03 2761.6 V2953.5M486.98 2761.6 V2953.5M503.58 2761.6 V2953.5M513.34 2761.6 V2953.5M529.94 2761.6 V2953.5M542.33 2761.6 V2953.5M277.1 2780.79 H551M277.1 2799.98 H551M277.1 2819.17 H551M277.1 2838.36 H551M277.1 2857.55 H551M277.1 2876.74 H551M277.1 2895.93 H551M277.1 2915.12 H551M277.1 2934.31 H551" stroke="#0a0a0a" stroke-width="1.05" fill="none"/><rect x="277.1" y="2761.6" width="273.9" height="191.9" fill="none" stroke="#0a0a0a" stroke-width="1.25"/><rect x="312" y="2866.4" width="69.8" height="17.2" fill="#fff"/><path d="M277.1 2907.4 C281.82 2907.08 296.3 2906.38 305.4 2905.5 C314.5 2904.62 321.6 2903.55 331.7 2902.1 C341.8 2900.65 355.37 2898.75 366 2896.8 C376.63 2894.85 386.02 2892.6 395.5 2890.4 C404.98 2888.2 414.12 2886.05 422.9 2883.6 C431.68 2881.15 441.25 2878.02 448.2 2875.7 C455.15 2873.38 458.13 2872.72 464.6 2869.7 C471.07 2866.68 480.5 2861.2 487 2857.6 C493.5 2854 499.22 2850.78 503.6 2848.1 C507.98 2845.42 508.92 2844.58 513.3 2841.5 C517.68 2838.42 525.07 2833.12 529.9 2829.6 C534.73 2826.08 538.78 2822.93 542.3 2820.4 C545.82 2817.87 549.55 2815.4 551 2814.4" fill="none" stroke="#111" stroke-width="2.05" stroke-linecap="butt"/><text x="315.9" y="2878.8" font-size="10.5" fill="#111"><tspan dy="0" font-size="10.5">R </tspan><tspan dy="2.2" font-size="7.6">θ</tspan><tspan dy="-2.2" font-size="7.6">VB</tspan><tspan dy="0" font-size="10.5"> for V</tspan><tspan dy="0" font-size="7.6">BE</tspan></text><text x="271.2" y="2766.18" font-size="10.5" text-anchor="end" fill="#111">−0.8</text><text x="271.2" y="2804.38" font-size="10.5" text-anchor="end" fill="#111">−1.2</text><text x="271.2" y="2842.78" font-size="10.5" text-anchor="end" fill="#111">−1.6</text><text x="271.2" y="2881.18" font-size="10.5" text-anchor="end" fill="#111">−2.0</text><text x="271.2" y="2919.58" font-size="10.5" text-anchor="end" fill="#111">−2.4</text><text x="271.2" y="2955.78" font-size="10.5" text-anchor="end" fill="#111">−2.8</text><text x="260.1" y="2969.6" font-size="10.5" fill="#111" textLength="20.7" lengthAdjust="spacingAndGlyphs">−0.5</text><text x="282.5" y="2969.6" font-size="10.5" fill="#111" textLength="20.7" lengthAdjust="spacingAndGlyphs">−1.0</text><text x="312.7" y="2969.6" font-size="10.5" fill="#111" textLength="21.3" lengthAdjust="spacingAndGlyphs">−2.0</text><text x="349.7" y="2969.6" font-size="10.5" fill="#111" textLength="21.9" lengthAdjust="spacingAndGlyphs">−5.0</text><text x="376" y="2967.4" font-size="10.5" fill="#111" textLength="16.9" lengthAdjust="spacingAndGlyphs">−10</text><text x="412.5" y="2969.6" font-size="10.5" fill="#111" textLength="18.5" lengthAdjust="spacingAndGlyphs">−20</text><text x="450" y="2969.6" font-size="10.5" fill="#111" textLength="17.4" lengthAdjust="spacingAndGlyphs">−50</text><text x="476.9" y="2967.4" font-size="10.5" fill="#111" textLength="24.1" lengthAdjust="spacingAndGlyphs">−100</text><text x="509.4" y="2969.6" font-size="10.5" fill="#111" textLength="25.2" lengthAdjust="spacingAndGlyphs">−200</text><text x="541.3" y="2967.4" font-size="10.5" fill="#111" textLength="23.5" lengthAdjust="spacingAndGlyphs">−500</text><text x="340.8" y="2987" font-size="10.67" fill="#111"><tspan dy="0" font-size="10.67">I</tspan><tspan dy="2.4" font-size="9">C</tspan><tspan dy="-2.4" font-size="10.67">, COLLECTOR CURRENT (mA)</tspan></text><text x="413.3" y="3012.2" font-size="12" text-anchor="middle" font-weight="bold" fill="#111">Figure 8. Base−Emitter Temperature</text><text x="413.1" y="3027.4" font-size="12" text-anchor="middle" font-weight="bold" fill="#111">Coefficient</text><text x="238.2" y="2858" font-size="10.67" text-anchor="middle" fill="#111" transform="rotate(-90 238.2 2858)" ><tspan dy="0" font-size="10.67">R</tspan><tspan dy="2.6" font-size="9">θVB</tspan><tspan dy="-2.6" font-size="10.67">, TEMPERATURE COEFFICIENT (mV/°C)</tspan></text></svg></div>
<div class="fline"></div><div class="furl">www.ejiguan.cn</div><div class="pnum" style="left:726.8px;top:1050.8px;">3</div>
</div>
</body>
</html>
